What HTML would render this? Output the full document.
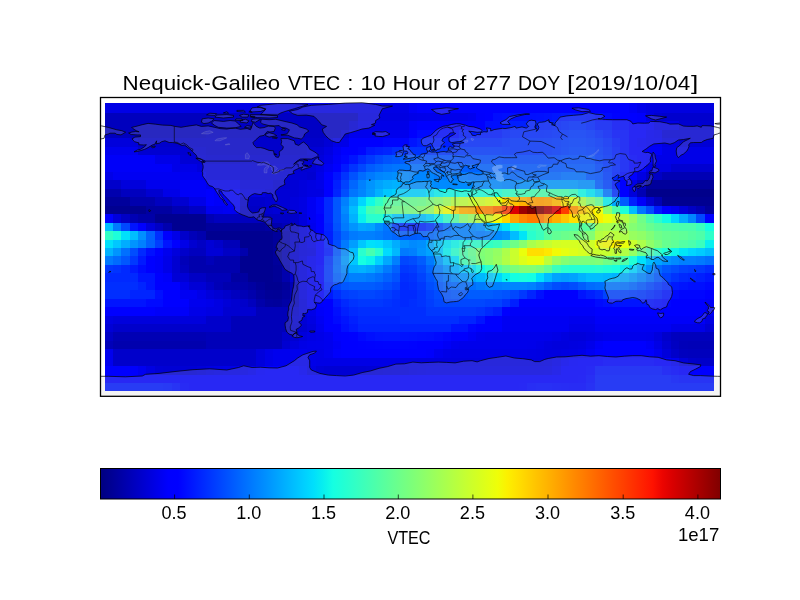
<!DOCTYPE html>
<html><head><meta charset="utf-8"><title>Nequick-Galileo VTEC</title>
<style>
html,body{margin:0;padding:0;background:#fff;}
body{width:800px;height:600px;overflow:hidden;font-family:"Liberation Sans",sans-serif;}
svg{display:block;will-change:transform;}
text{font-family:"Liberation Sans",sans-serif;fill:#000;}
.t{opacity:0.999;}
</style></head><body>
<svg width="800" height="600" viewBox="0 0 800 600">
<rect x="0" y="0" width="800" height="600" fill="#fff"/>
<defs>
<linearGradient id="jet" x1="0" y1="0" x2="1" y2="0"><stop offset="0.0000" stop-color="#000080"/><stop offset="0.0156" stop-color="#000092"/><stop offset="0.0312" stop-color="#0000a4"/><stop offset="0.0469" stop-color="#0000b6"/><stop offset="0.0625" stop-color="#0000c8"/><stop offset="0.0781" stop-color="#0000da"/><stop offset="0.0938" stop-color="#0000ec"/><stop offset="0.1094" stop-color="#0000fe"/><stop offset="0.1250" stop-color="#0000ff"/><stop offset="0.1406" stop-color="#0010ff"/><stop offset="0.1562" stop-color="#0020ff"/><stop offset="0.1719" stop-color="#0030ff"/><stop offset="0.1875" stop-color="#0040ff"/><stop offset="0.2031" stop-color="#0050ff"/><stop offset="0.2188" stop-color="#0060ff"/><stop offset="0.2344" stop-color="#0070ff"/><stop offset="0.2500" stop-color="#0080ff"/><stop offset="0.2656" stop-color="#008fff"/><stop offset="0.2812" stop-color="#009fff"/><stop offset="0.2969" stop-color="#00afff"/><stop offset="0.3125" stop-color="#00bfff"/><stop offset="0.3281" stop-color="#00cfff"/><stop offset="0.3438" stop-color="#00dffc"/><stop offset="0.3594" stop-color="#08efef"/><stop offset="0.3750" stop-color="#15ffe2"/><stop offset="0.3906" stop-color="#21ffd5"/><stop offset="0.4062" stop-color="#2effc9"/><stop offset="0.4219" stop-color="#3bffbc"/><stop offset="0.4375" stop-color="#48ffaf"/><stop offset="0.4531" stop-color="#55ffa2"/><stop offset="0.4688" stop-color="#62ff95"/><stop offset="0.4844" stop-color="#6fff88"/><stop offset="0.5000" stop-color="#7bff7b"/><stop offset="0.5156" stop-color="#88ff6f"/><stop offset="0.5312" stop-color="#95ff62"/><stop offset="0.5469" stop-color="#a2ff55"/><stop offset="0.5625" stop-color="#afff48"/><stop offset="0.5781" stop-color="#bcff3b"/><stop offset="0.5938" stop-color="#c9ff2e"/><stop offset="0.6094" stop-color="#d5ff21"/><stop offset="0.6250" stop-color="#e2ff15"/><stop offset="0.6406" stop-color="#effe08"/><stop offset="0.6562" stop-color="#fcf000"/><stop offset="0.6719" stop-color="#ffe100"/><stop offset="0.6875" stop-color="#ffd200"/><stop offset="0.7031" stop-color="#ffc300"/><stop offset="0.7188" stop-color="#ffb500"/><stop offset="0.7344" stop-color="#ffa600"/><stop offset="0.7500" stop-color="#ff9700"/><stop offset="0.7656" stop-color="#ff8800"/><stop offset="0.7812" stop-color="#ff7a00"/><stop offset="0.7969" stop-color="#ff6b00"/><stop offset="0.8125" stop-color="#ff5c00"/><stop offset="0.8281" stop-color="#ff4d00"/><stop offset="0.8438" stop-color="#ff3f00"/><stop offset="0.8594" stop-color="#ff3000"/><stop offset="0.8750" stop-color="#ff2100"/><stop offset="0.8906" stop-color="#fe1200"/><stop offset="0.9062" stop-color="#ec0400"/><stop offset="0.9219" stop-color="#da0000"/><stop offset="0.9375" stop-color="#c80000"/><stop offset="0.9531" stop-color="#b60000"/><stop offset="0.9688" stop-color="#a40000"/><stop offset="0.9844" stop-color="#920000"/><stop offset="1.0000" stop-color="#800000"/></linearGradient>
<clipPath id="axclip"><rect x="100.5" y="97.5" width="620" height="298.8"/></clipPath>
</defs>
<text class="t" y="89.7" font-size="20.3"><tspan x="122.64" textLength="80.78" lengthAdjust="spacingAndGlyphs">Nequick</tspan><tspan x="204.02" textLength="6.67" lengthAdjust="spacingAndGlyphs">-</tspan><tspan x="211.29" textLength="68.88" lengthAdjust="spacingAndGlyphs">Galileo</tspan> <tspan x="287.91" textLength="52.30" lengthAdjust="spacingAndGlyphs">VTEC</tspan> <tspan x="347.22" textLength="6.18" lengthAdjust="spacingAndGlyphs">:</tspan> <tspan x="360.40" textLength="25.02" lengthAdjust="spacingAndGlyphs">10</tspan> <tspan x="392.43" textLength="47.92" lengthAdjust="spacingAndGlyphs">Hour</tspan> <tspan x="447.35" textLength="18.82" lengthAdjust="spacingAndGlyphs">of</tspan> <tspan x="473.18" textLength="37.83" lengthAdjust="spacingAndGlyphs">277</tspan> <tspan x="518.02" textLength="41.98" lengthAdjust="spacingAndGlyphs">DOY</tspan> <tspan x="567.01" textLength="7.26" lengthAdjust="spacingAndGlyphs">[</tspan><tspan x="574.85" textLength="50.65" lengthAdjust="spacingAndGlyphs">2019</tspan><tspan x="626.10" textLength="6.18" lengthAdjust="spacingAndGlyphs">/</tspan><tspan x="632.88" textLength="25.02" lengthAdjust="spacingAndGlyphs">10</tspan><tspan x="658.50" textLength="6.18" lengthAdjust="spacingAndGlyphs">/</tspan><tspan x="665.29" textLength="25.02" lengthAdjust="spacingAndGlyphs">04</tspan><tspan x="690.90" textLength="7.26" lengthAdjust="spacingAndGlyphs">]</tspan></text>
<g shape-rendering="crispEdges">
<rect x="105" y="103" width="304" height="10" fill="#0000e6"/>
<rect x="409" y="103" width="8" height="10" fill="#0000f6"/>
<rect x="417" y="103" width="9" height="10" fill="#0000fe"/>
<rect x="426" y="103" width="203" height="10" fill="#0000ff"/>
<rect x="629" y="103" width="8" height="10" fill="#0000f6"/>
<rect x="637" y="103" width="9" height="10" fill="#0000ea"/>
<rect x="646" y="103" width="8" height="10" fill="#0000e2"/>
<rect x="654" y="103" width="60" height="10" fill="#0000e0"/>
<rect x="105" y="113" width="101" height="8" fill="#0000be"/>
<rect x="206" y="113" width="152" height="8" fill="#0000c5"/>
<rect x="358" y="113" width="51" height="8" fill="#0000e2"/>
<rect x="409" y="113" width="8" height="8" fill="#0000e8"/>
<rect x="417" y="113" width="9" height="8" fill="#0000ea"/>
<rect x="426" y="113" width="42" height="8" fill="#0000eb"/>
<rect x="468" y="113" width="8" height="8" fill="#0000ef"/>
<rect x="476" y="113" width="9" height="8" fill="#0000fd"/>
<rect x="485" y="113" width="8" height="8" fill="#0000ff"/>
<rect x="493" y="113" width="9" height="8" fill="#000cff"/>
<rect x="502" y="113" width="34" height="8" fill="#000fff"/>
<rect x="536" y="113" width="8" height="8" fill="#0010ff"/>
<rect x="544" y="113" width="8" height="8" fill="#0012ff"/>
<rect x="552" y="113" width="9" height="8" fill="#0016ff"/>
<rect x="561" y="113" width="8" height="8" fill="#0018ff"/>
<rect x="569" y="113" width="17" height="8" fill="#0019ff"/>
<rect x="586" y="113" width="9" height="8" fill="#0017ff"/>
<rect x="595" y="113" width="8" height="8" fill="#0011ff"/>
<rect x="603" y="113" width="9" height="8" fill="#0008ff"/>
<rect x="612" y="113" width="8" height="8" fill="#0002ff"/>
<rect x="620" y="113" width="17" height="8" fill="#0000ff"/>
<rect x="637" y="113" width="9" height="8" fill="#0000fc"/>
<rect x="646" y="113" width="8" height="8" fill="#0000e3"/>
<rect x="654" y="113" width="8" height="8" fill="#0000d3"/>
<rect x="662" y="113" width="52" height="8" fill="#0000ce"/>
<rect x="105" y="121" width="101" height="9" fill="#0000be"/>
<rect x="206" y="121" width="143" height="9" fill="#0000c5"/>
<rect x="349" y="121" width="9" height="9" fill="#0000d6"/>
<rect x="358" y="121" width="51" height="9" fill="#0000e8"/>
<rect x="409" y="121" width="8" height="9" fill="#0000f9"/>
<rect x="417" y="121" width="68" height="9" fill="#0000ff"/>
<rect x="485" y="121" width="17" height="9" fill="#000fff"/>
<rect x="502" y="121" width="8" height="9" fill="#0018ff"/>
<rect x="510" y="121" width="9" height="9" fill="#001eff"/>
<rect x="519" y="121" width="25" height="9" fill="#001fff"/>
<rect x="544" y="121" width="8" height="9" fill="#0020ff"/>
<rect x="552" y="121" width="9" height="9" fill="#0024ff"/>
<rect x="561" y="121" width="8" height="9" fill="#0029ff"/>
<rect x="569" y="121" width="17" height="9" fill="#002dff"/>
<rect x="586" y="121" width="9" height="9" fill="#0026ff"/>
<rect x="595" y="121" width="17" height="9" fill="#0019ff"/>
<rect x="612" y="121" width="17" height="9" fill="#000aff"/>
<rect x="629" y="121" width="17" height="9" fill="#0000ff"/>
<rect x="646" y="121" width="8" height="9" fill="#0000f9"/>
<rect x="654" y="121" width="25" height="9" fill="#0000e8"/>
<rect x="679" y="121" width="35" height="9" fill="#0000d1"/>
<rect x="105" y="130" width="101" height="8" fill="#0000be"/>
<rect x="206" y="130" width="135" height="8" fill="#0000c5"/>
<rect x="341" y="130" width="8" height="8" fill="#0000d6"/>
<rect x="349" y="130" width="60" height="8" fill="#0000ee"/>
<rect x="409" y="130" width="8" height="8" fill="#0000ff"/>
<rect x="417" y="130" width="42" height="8" fill="#000aff"/>
<rect x="459" y="130" width="43" height="8" fill="#0019ff"/>
<rect x="502" y="130" width="8" height="8" fill="#0023ff"/>
<rect x="510" y="130" width="9" height="8" fill="#0028ff"/>
<rect x="519" y="130" width="25" height="8" fill="#0029ff"/>
<rect x="544" y="130" width="8" height="8" fill="#002aff"/>
<rect x="552" y="130" width="9" height="8" fill="#002eff"/>
<rect x="561" y="130" width="8" height="8" fill="#0033ff"/>
<rect x="569" y="130" width="17" height="8" fill="#0037ff"/>
<rect x="586" y="130" width="9" height="8" fill="#0032ff"/>
<rect x="595" y="130" width="8" height="8" fill="#0029ff"/>
<rect x="603" y="130" width="9" height="8" fill="#001fff"/>
<rect x="612" y="130" width="17" height="8" fill="#000fff"/>
<rect x="629" y="130" width="17" height="8" fill="#0000ff"/>
<rect x="646" y="130" width="8" height="8" fill="#0000f3"/>
<rect x="654" y="130" width="8" height="8" fill="#0000ee"/>
<rect x="662" y="130" width="52" height="8" fill="#0000d6"/>
<rect x="105" y="138" width="33" height="9" fill="#0000dc"/>
<rect x="138" y="138" width="186" height="9" fill="#0000cb"/>
<rect x="324" y="138" width="9" height="9" fill="#0000d6"/>
<rect x="333" y="138" width="16" height="9" fill="#0000e8"/>
<rect x="349" y="138" width="34" height="9" fill="#0000ff"/>
<rect x="383" y="138" width="26" height="9" fill="#0005ff"/>
<rect x="409" y="138" width="8" height="9" fill="#0014ff"/>
<rect x="417" y="138" width="42" height="9" fill="#001fff"/>
<rect x="459" y="138" width="43" height="9" fill="#0029ff"/>
<rect x="502" y="138" width="8" height="9" fill="#002fff"/>
<rect x="510" y="138" width="9" height="9" fill="#0032ff"/>
<rect x="519" y="138" width="25" height="9" fill="#0033ff"/>
<rect x="544" y="138" width="8" height="9" fill="#0034ff"/>
<rect x="552" y="138" width="9" height="9" fill="#0036ff"/>
<rect x="561" y="138" width="8" height="9" fill="#003aff"/>
<rect x="569" y="138" width="17" height="9" fill="#003cff"/>
<rect x="586" y="138" width="9" height="9" fill="#0039ff"/>
<rect x="595" y="138" width="8" height="9" fill="#0033ff"/>
<rect x="603" y="138" width="9" height="9" fill="#0029ff"/>
<rect x="612" y="138" width="8" height="9" fill="#0019ff"/>
<rect x="620" y="138" width="9" height="9" fill="#000fff"/>
<rect x="629" y="138" width="8" height="9" fill="#0000ff"/>
<rect x="637" y="138" width="9" height="9" fill="#0000f9"/>
<rect x="646" y="138" width="16" height="9" fill="#0000f3"/>
<rect x="662" y="138" width="17" height="9" fill="#0000e2"/>
<rect x="679" y="138" width="35" height="9" fill="#0000d6"/>
<rect x="105" y="147" width="33" height="8" fill="#0000ee"/>
<rect x="138" y="147" width="68" height="8" fill="#0000d1"/>
<rect x="206" y="147" width="101" height="8" fill="#0000cb"/>
<rect x="307" y="147" width="17" height="8" fill="#0000d6"/>
<rect x="324" y="147" width="9" height="8" fill="#0000e2"/>
<rect x="333" y="147" width="8" height="8" fill="#0000f3"/>
<rect x="341" y="147" width="17" height="8" fill="#0000ff"/>
<rect x="358" y="147" width="8" height="8" fill="#0005ff"/>
<rect x="366" y="147" width="9" height="8" fill="#0019ff"/>
<rect x="375" y="147" width="8" height="8" fill="#001fff"/>
<rect x="383" y="147" width="9" height="8" fill="#0024ff"/>
<rect x="392" y="147" width="8" height="8" fill="#002eff"/>
<rect x="400" y="147" width="59" height="8" fill="#0033ff"/>
<rect x="459" y="147" width="43" height="8" fill="#0038ff"/>
<rect x="502" y="147" width="8" height="8" fill="#0035ff"/>
<rect x="510" y="147" width="34" height="8" fill="#0033ff"/>
<rect x="544" y="147" width="8" height="8" fill="#0034ff"/>
<rect x="552" y="147" width="9" height="8" fill="#0038ff"/>
<rect x="561" y="147" width="8" height="8" fill="#003dff"/>
<rect x="569" y="147" width="17" height="8" fill="#0041ff"/>
<rect x="586" y="147" width="9" height="8" fill="#003eff"/>
<rect x="595" y="147" width="8" height="8" fill="#0038ff"/>
<rect x="603" y="147" width="9" height="8" fill="#002eff"/>
<rect x="612" y="147" width="8" height="8" fill="#001fff"/>
<rect x="620" y="147" width="9" height="8" fill="#000fff"/>
<rect x="629" y="147" width="17" height="8" fill="#0000ff"/>
<rect x="646" y="147" width="16" height="8" fill="#0000f9"/>
<rect x="662" y="147" width="52" height="8" fill="#0000e8"/>
<rect x="105" y="155" width="50" height="9" fill="#0000f9"/>
<rect x="155" y="155" width="25" height="9" fill="#0000e8"/>
<rect x="180" y="155" width="26" height="9" fill="#0000d6"/>
<rect x="206" y="155" width="110" height="9" fill="#0000d1"/>
<rect x="316" y="155" width="8" height="9" fill="#0000dc"/>
<rect x="324" y="155" width="9" height="9" fill="#0000e8"/>
<rect x="333" y="155" width="8" height="9" fill="#0000f9"/>
<rect x="341" y="155" width="8" height="9" fill="#0005ff"/>
<rect x="349" y="155" width="9" height="9" fill="#0014ff"/>
<rect x="358" y="155" width="8" height="9" fill="#0029ff"/>
<rect x="366" y="155" width="9" height="9" fill="#0038ff"/>
<rect x="375" y="155" width="8" height="9" fill="#0047ff"/>
<rect x="383" y="155" width="9" height="9" fill="#0052ff"/>
<rect x="392" y="155" width="8" height="9" fill="#0057ff"/>
<rect x="400" y="155" width="9" height="9" fill="#005cff"/>
<rect x="409" y="155" width="17" height="9" fill="#0057ff"/>
<rect x="426" y="155" width="33" height="9" fill="#0052ff"/>
<rect x="459" y="155" width="43" height="9" fill="#004dff"/>
<rect x="502" y="155" width="8" height="9" fill="#0049ff"/>
<rect x="510" y="155" width="42" height="9" fill="#0047ff"/>
<rect x="552" y="155" width="9" height="9" fill="#0049ff"/>
<rect x="561" y="155" width="34" height="9" fill="#004dff"/>
<rect x="595" y="155" width="8" height="9" fill="#003dff"/>
<rect x="603" y="155" width="9" height="9" fill="#0033ff"/>
<rect x="612" y="155" width="8" height="9" fill="#0024ff"/>
<rect x="620" y="155" width="9" height="9" fill="#0014ff"/>
<rect x="629" y="155" width="8" height="9" fill="#0005ff"/>
<rect x="637" y="155" width="9" height="9" fill="#0000ff"/>
<rect x="646" y="155" width="8" height="9" fill="#0000f9"/>
<rect x="654" y="155" width="60" height="9" fill="#0000e8"/>
<rect x="105" y="164" width="67" height="8" fill="#0000f9"/>
<rect x="172" y="164" width="25" height="8" fill="#0000e8"/>
<rect x="197" y="164" width="43" height="8" fill="#0000dc"/>
<rect x="240" y="164" width="59" height="8" fill="#0000d6"/>
<rect x="299" y="164" width="8" height="8" fill="#0000d1"/>
<rect x="307" y="164" width="9" height="8" fill="#0000d6"/>
<rect x="316" y="164" width="8" height="8" fill="#0000e2"/>
<rect x="324" y="164" width="9" height="8" fill="#0000f3"/>
<rect x="333" y="164" width="8" height="8" fill="#0000ff"/>
<rect x="341" y="164" width="8" height="8" fill="#0019ff"/>
<rect x="349" y="164" width="9" height="8" fill="#0033ff"/>
<rect x="358" y="164" width="8" height="8" fill="#0047ff"/>
<rect x="366" y="164" width="9" height="8" fill="#005cff"/>
<rect x="375" y="164" width="8" height="8" fill="#0066ff"/>
<rect x="383" y="164" width="9" height="8" fill="#0070ff"/>
<rect x="392" y="164" width="17" height="8" fill="#0075ff"/>
<rect x="409" y="164" width="25" height="8" fill="#0070ff"/>
<rect x="434" y="164" width="25" height="8" fill="#0066ff"/>
<rect x="459" y="164" width="43" height="8" fill="#0061ff"/>
<rect x="502" y="164" width="8" height="8" fill="#005cff"/>
<rect x="510" y="164" width="85" height="8" fill="#0057ff"/>
<rect x="595" y="164" width="8" height="8" fill="#0047ff"/>
<rect x="603" y="164" width="9" height="8" fill="#0038ff"/>
<rect x="612" y="164" width="8" height="8" fill="#0029ff"/>
<rect x="620" y="164" width="9" height="8" fill="#0014ff"/>
<rect x="629" y="164" width="8" height="8" fill="#0005ff"/>
<rect x="637" y="164" width="9" height="8" fill="#0000ff"/>
<rect x="646" y="164" width="25" height="8" fill="#0000e2"/>
<rect x="671" y="164" width="43" height="8" fill="#0000d1"/>
<rect x="105" y="172" width="8" height="8" fill="#0000e8"/>
<rect x="113" y="172" width="67" height="8" fill="#0000f3"/>
<rect x="180" y="172" width="26" height="8" fill="#0000ee"/>
<rect x="206" y="172" width="34" height="8" fill="#0000dc"/>
<rect x="240" y="172" width="67" height="8" fill="#0000d6"/>
<rect x="307" y="172" width="9" height="8" fill="#0000d1"/>
<rect x="316" y="172" width="8" height="8" fill="#0000e8"/>
<rect x="324" y="172" width="9" height="8" fill="#0000ff"/>
<rect x="333" y="172" width="8" height="8" fill="#0014ff"/>
<rect x="341" y="172" width="8" height="8" fill="#0033ff"/>
<rect x="349" y="172" width="9" height="8" fill="#0052ff"/>
<rect x="358" y="172" width="8" height="8" fill="#006bff"/>
<rect x="366" y="172" width="9" height="8" fill="#007aff"/>
<rect x="375" y="172" width="8" height="8" fill="#0085ff"/>
<rect x="383" y="172" width="9" height="8" fill="#008aff"/>
<rect x="392" y="172" width="8" height="8" fill="#008fff"/>
<rect x="400" y="172" width="9" height="8" fill="#008aff"/>
<rect x="409" y="172" width="25" height="8" fill="#0085ff"/>
<rect x="434" y="172" width="34" height="8" fill="#007aff"/>
<rect x="468" y="172" width="34" height="8" fill="#0075ff"/>
<rect x="502" y="172" width="8" height="8" fill="#0070ff"/>
<rect x="510" y="172" width="51" height="8" fill="#0066ff"/>
<rect x="561" y="172" width="25" height="8" fill="#0070ff"/>
<rect x="586" y="172" width="9" height="8" fill="#0057ff"/>
<rect x="595" y="172" width="8" height="8" fill="#0052ff"/>
<rect x="603" y="172" width="9" height="8" fill="#003dff"/>
<rect x="612" y="172" width="8" height="8" fill="#0024ff"/>
<rect x="620" y="172" width="9" height="8" fill="#000aff"/>
<rect x="629" y="172" width="8" height="8" fill="#0000ff"/>
<rect x="637" y="172" width="9" height="8" fill="#0000e2"/>
<rect x="646" y="172" width="16" height="8" fill="#0000c5"/>
<rect x="662" y="172" width="52" height="8" fill="#0000b4"/>
<rect x="105" y="180" width="16" height="9" fill="#0000cb"/>
<rect x="121" y="180" width="25" height="9" fill="#0000dc"/>
<rect x="146" y="180" width="34" height="9" fill="#0000ee"/>
<rect x="180" y="180" width="26" height="9" fill="#0000f9"/>
<rect x="206" y="180" width="34" height="9" fill="#0000ee"/>
<rect x="240" y="180" width="33" height="9" fill="#0000dc"/>
<rect x="273" y="180" width="17" height="9" fill="#0000d1"/>
<rect x="290" y="180" width="9" height="9" fill="#0000d6"/>
<rect x="299" y="180" width="8" height="9" fill="#0000dc"/>
<rect x="307" y="180" width="9" height="9" fill="#0000e2"/>
<rect x="316" y="180" width="8" height="9" fill="#0000e8"/>
<rect x="324" y="180" width="9" height="9" fill="#0000ff"/>
<rect x="333" y="180" width="8" height="9" fill="#001fff"/>
<rect x="341" y="180" width="8" height="9" fill="#0042ff"/>
<rect x="349" y="180" width="9" height="9" fill="#0066ff"/>
<rect x="358" y="180" width="8" height="9" fill="#0080ff"/>
<rect x="366" y="180" width="9" height="9" fill="#0094ff"/>
<rect x="375" y="180" width="8" height="9" fill="#00a3ff"/>
<rect x="383" y="180" width="9" height="9" fill="#00adff"/>
<rect x="392" y="180" width="8" height="9" fill="#00b2ff"/>
<rect x="400" y="180" width="9" height="9" fill="#0099ff"/>
<rect x="409" y="180" width="25" height="9" fill="#008fff"/>
<rect x="434" y="180" width="68" height="9" fill="#008aff"/>
<rect x="502" y="180" width="17" height="9" fill="#0085ff"/>
<rect x="519" y="180" width="25" height="9" fill="#008fff"/>
<rect x="544" y="180" width="34" height="9" fill="#0099ff"/>
<rect x="578" y="180" width="17" height="9" fill="#008fff"/>
<rect x="595" y="180" width="8" height="9" fill="#005cff"/>
<rect x="603" y="180" width="9" height="9" fill="#0042ff"/>
<rect x="612" y="180" width="8" height="9" fill="#0019ff"/>
<rect x="620" y="180" width="9" height="9" fill="#0000ff"/>
<rect x="629" y="180" width="8" height="9" fill="#0000e8"/>
<rect x="637" y="180" width="9" height="9" fill="#0000c5"/>
<rect x="646" y="180" width="68" height="9" fill="#00009c"/>
<rect x="105" y="189" width="16" height="8" fill="#0000ae"/>
<rect x="121" y="189" width="25" height="8" fill="#0000bf"/>
<rect x="146" y="189" width="17" height="8" fill="#0000d1"/>
<rect x="163" y="189" width="17" height="8" fill="#0000e8"/>
<rect x="180" y="189" width="26" height="8" fill="#0000f9"/>
<rect x="206" y="189" width="8" height="8" fill="#0000ff"/>
<rect x="214" y="189" width="26" height="8" fill="#0000f9"/>
<rect x="240" y="189" width="25" height="8" fill="#0000e2"/>
<rect x="265" y="189" width="34" height="8" fill="#0000d6"/>
<rect x="299" y="189" width="8" height="8" fill="#0000dc"/>
<rect x="307" y="189" width="17" height="8" fill="#0000e2"/>
<rect x="324" y="189" width="9" height="8" fill="#0000ff"/>
<rect x="333" y="189" width="8" height="8" fill="#0024ff"/>
<rect x="341" y="189" width="8" height="8" fill="#004dff"/>
<rect x="349" y="189" width="9" height="8" fill="#0075ff"/>
<rect x="358" y="189" width="8" height="8" fill="#0085ff"/>
<rect x="366" y="189" width="9" height="8" fill="#0099ff"/>
<rect x="375" y="189" width="8" height="8" fill="#00b2ff"/>
<rect x="383" y="189" width="9" height="8" fill="#00c7ff"/>
<rect x="392" y="189" width="34" height="8" fill="#00d1ff"/>
<rect x="426" y="189" width="8" height="8" fill="#00e0fb"/>
<rect x="434" y="189" width="9" height="8" fill="#08f0ef"/>
<rect x="443" y="189" width="16" height="8" fill="#10fae6"/>
<rect x="459" y="189" width="17" height="8" fill="#19ffde"/>
<rect x="476" y="189" width="26" height="8" fill="#1dffda"/>
<rect x="502" y="189" width="8" height="8" fill="#2dffca"/>
<rect x="510" y="189" width="9" height="8" fill="#31ffc5"/>
<rect x="519" y="189" width="8" height="8" fill="#3affbd"/>
<rect x="527" y="189" width="9" height="8" fill="#42ffb5"/>
<rect x="536" y="189" width="25" height="8" fill="#4affad"/>
<rect x="561" y="189" width="8" height="8" fill="#46ffb1"/>
<rect x="569" y="189" width="9" height="8" fill="#3affbd"/>
<rect x="578" y="189" width="8" height="8" fill="#10fae6"/>
<rect x="586" y="189" width="9" height="8" fill="#00e5f7"/>
<rect x="595" y="189" width="8" height="8" fill="#00c2ff"/>
<rect x="603" y="189" width="9" height="8" fill="#0075ff"/>
<rect x="612" y="189" width="8" height="8" fill="#002eff"/>
<rect x="620" y="189" width="9" height="8" fill="#0000ff"/>
<rect x="629" y="189" width="8" height="8" fill="#0000dc"/>
<rect x="637" y="189" width="9" height="8" fill="#0000b4"/>
<rect x="646" y="189" width="68" height="8" fill="#00008b"/>
<rect x="105" y="197" width="25" height="9" fill="#00009c"/>
<rect x="130" y="197" width="25" height="9" fill="#0000ae"/>
<rect x="155" y="197" width="17" height="9" fill="#0000bf"/>
<rect x="172" y="197" width="17" height="9" fill="#0000d1"/>
<rect x="189" y="197" width="17" height="9" fill="#0000e8"/>
<rect x="206" y="197" width="8" height="9" fill="#0000ff"/>
<rect x="214" y="197" width="26" height="9" fill="#0000f9"/>
<rect x="240" y="197" width="25" height="9" fill="#0000cb"/>
<rect x="265" y="197" width="8" height="9" fill="#0000d1"/>
<rect x="273" y="197" width="17" height="9" fill="#0000d6"/>
<rect x="290" y="197" width="9" height="9" fill="#0000dc"/>
<rect x="299" y="197" width="8" height="9" fill="#0000e2"/>
<rect x="307" y="197" width="9" height="9" fill="#0000f3"/>
<rect x="316" y="197" width="8" height="9" fill="#0005ff"/>
<rect x="324" y="197" width="9" height="9" fill="#0029ff"/>
<rect x="333" y="197" width="8" height="9" fill="#0057ff"/>
<rect x="341" y="197" width="8" height="9" fill="#0080ff"/>
<rect x="349" y="197" width="9" height="9" fill="#00a8ff"/>
<rect x="358" y="197" width="8" height="9" fill="#00d6ff"/>
<rect x="366" y="197" width="9" height="9" fill="#10fae6"/>
<rect x="375" y="197" width="8" height="9" fill="#31ffc5"/>
<rect x="383" y="197" width="9" height="9" fill="#4effa9"/>
<rect x="392" y="197" width="8" height="9" fill="#5aff9c"/>
<rect x="400" y="197" width="9" height="9" fill="#63ff94"/>
<rect x="409" y="197" width="8" height="9" fill="#67ff90"/>
<rect x="417" y="197" width="9" height="9" fill="#6bff8c"/>
<rect x="426" y="197" width="8" height="9" fill="#77ff80"/>
<rect x="434" y="197" width="9" height="9" fill="#88ff6f"/>
<rect x="443" y="197" width="8" height="9" fill="#9cff5a"/>
<rect x="451" y="197" width="8" height="9" fill="#b5ff42"/>
<rect x="459" y="197" width="9" height="9" fill="#bdff3a"/>
<rect x="468" y="197" width="8" height="9" fill="#caff2d"/>
<rect x="476" y="197" width="9" height="9" fill="#ceff29"/>
<rect x="485" y="197" width="8" height="9" fill="#daff1d"/>
<rect x="493" y="197" width="9" height="9" fill="#e6ff10"/>
<rect x="502" y="197" width="8" height="9" fill="#ffd900"/>
<rect x="510" y="197" width="9" height="9" fill="#ffc200"/>
<rect x="519" y="197" width="8" height="9" fill="#ffaf00"/>
<rect x="527" y="197" width="9" height="9" fill="#ffa100"/>
<rect x="536" y="197" width="8" height="9" fill="#ff9c00"/>
<rect x="544" y="197" width="8" height="9" fill="#ffa100"/>
<rect x="552" y="197" width="9" height="9" fill="#ffb800"/>
<rect x="561" y="197" width="8" height="9" fill="#ffe300"/>
<rect x="569" y="197" width="9" height="9" fill="#deff19"/>
<rect x="578" y="197" width="8" height="9" fill="#adff4a"/>
<rect x="586" y="197" width="9" height="9" fill="#84ff73"/>
<rect x="595" y="197" width="8" height="9" fill="#63ff94"/>
<rect x="603" y="197" width="9" height="9" fill="#08f0ef"/>
<rect x="612" y="197" width="8" height="9" fill="#00a8ff"/>
<rect x="620" y="197" width="9" height="9" fill="#005cff"/>
<rect x="629" y="197" width="8" height="9" fill="#001fff"/>
<rect x="637" y="197" width="9" height="9" fill="#0000f9"/>
<rect x="646" y="197" width="8" height="9" fill="#0000d1"/>
<rect x="654" y="197" width="8" height="9" fill="#0000b4"/>
<rect x="662" y="197" width="52" height="9" fill="#000091"/>
<rect x="105" y="206" width="41" height="8" fill="#000091"/>
<rect x="146" y="206" width="26" height="8" fill="#0000a2"/>
<rect x="172" y="206" width="17" height="8" fill="#0000b4"/>
<rect x="189" y="206" width="17" height="8" fill="#0000c5"/>
<rect x="206" y="206" width="17" height="8" fill="#0000ee"/>
<rect x="223" y="206" width="17" height="8" fill="#0000f3"/>
<rect x="240" y="206" width="25" height="8" fill="#0000c5"/>
<rect x="265" y="206" width="8" height="8" fill="#0000d1"/>
<rect x="273" y="206" width="17" height="8" fill="#0000d6"/>
<rect x="290" y="206" width="9" height="8" fill="#0000dc"/>
<rect x="299" y="206" width="8" height="8" fill="#0000e2"/>
<rect x="307" y="206" width="9" height="8" fill="#0000f3"/>
<rect x="316" y="206" width="8" height="8" fill="#0005ff"/>
<rect x="324" y="206" width="9" height="8" fill="#0029ff"/>
<rect x="333" y="206" width="8" height="8" fill="#0057ff"/>
<rect x="341" y="206" width="8" height="8" fill="#008aff"/>
<rect x="349" y="206" width="9" height="8" fill="#00bdff"/>
<rect x="358" y="206" width="8" height="8" fill="#10fae6"/>
<rect x="366" y="206" width="9" height="8" fill="#46ffb1"/>
<rect x="375" y="206" width="8" height="8" fill="#56ffa0"/>
<rect x="383" y="206" width="9" height="8" fill="#67ff90"/>
<rect x="392" y="206" width="8" height="8" fill="#6fff88"/>
<rect x="400" y="206" width="9" height="8" fill="#73ff84"/>
<rect x="409" y="206" width="8" height="8" fill="#77ff80"/>
<rect x="417" y="206" width="9" height="8" fill="#84ff73"/>
<rect x="426" y="206" width="8" height="8" fill="#94ff63"/>
<rect x="434" y="206" width="9" height="8" fill="#ceff29"/>
<rect x="443" y="206" width="8" height="8" fill="#efff08"/>
<rect x="451" y="206" width="8" height="8" fill="#ffd000"/>
<rect x="459" y="206" width="9" height="8" fill="#ffaf00"/>
<rect x="468" y="206" width="8" height="8" fill="#ffaa00"/>
<rect x="476" y="206" width="9" height="8" fill="#ff8900"/>
<rect x="485" y="206" width="8" height="8" fill="#ff8400"/>
<rect x="493" y="206" width="9" height="8" fill="#ff6800"/>
<rect x="502" y="206" width="8" height="8" fill="#ff3900"/>
<rect x="510" y="206" width="9" height="8" fill="#dc0000"/>
<rect x="519" y="206" width="8" height="8" fill="#9c0000"/>
<rect x="527" y="206" width="17" height="8" fill="#800000"/>
<rect x="544" y="206" width="8" height="8" fill="#a80000"/>
<rect x="552" y="206" width="9" height="8" fill="#dc0000"/>
<rect x="561" y="206" width="8" height="8" fill="#ff3d00"/>
<rect x="569" y="206" width="9" height="8" fill="#ff9200"/>
<rect x="578" y="206" width="8" height="8" fill="#ffc200"/>
<rect x="586" y="206" width="9" height="8" fill="#ffe700"/>
<rect x="595" y="206" width="8" height="8" fill="#efff08"/>
<rect x="603" y="206" width="9" height="8" fill="#8cff6b"/>
<rect x="612" y="206" width="8" height="8" fill="#4effa9"/>
<rect x="620" y="206" width="9" height="8" fill="#1dffda"/>
<rect x="629" y="206" width="8" height="8" fill="#00bdff"/>
<rect x="637" y="206" width="9" height="8" fill="#0075ff"/>
<rect x="646" y="206" width="8" height="8" fill="#004dff"/>
<rect x="654" y="206" width="8" height="8" fill="#0019ff"/>
<rect x="662" y="206" width="9" height="8" fill="#0000ff"/>
<rect x="671" y="206" width="8" height="8" fill="#0000f3"/>
<rect x="679" y="206" width="9" height="8" fill="#0000dc"/>
<rect x="688" y="206" width="8" height="8" fill="#0000c5"/>
<rect x="696" y="206" width="9" height="8" fill="#0000b4"/>
<rect x="705" y="206" width="9" height="8" fill="#00009c"/>
<rect x="105" y="214" width="8" height="9" fill="#0000ff"/>
<rect x="113" y="214" width="8" height="9" fill="#0000dc"/>
<rect x="121" y="214" width="9" height="9" fill="#0000c5"/>
<rect x="130" y="214" width="8" height="9" fill="#0000b4"/>
<rect x="138" y="214" width="17" height="9" fill="#0000a8"/>
<rect x="155" y="214" width="51" height="9" fill="#000091"/>
<rect x="206" y="214" width="8" height="9" fill="#0000b4"/>
<rect x="214" y="214" width="51" height="9" fill="#0000bf"/>
<rect x="265" y="214" width="25" height="9" fill="#0000c5"/>
<rect x="290" y="214" width="9" height="9" fill="#0000cb"/>
<rect x="299" y="214" width="8" height="9" fill="#0000dc"/>
<rect x="307" y="214" width="9" height="9" fill="#0000f3"/>
<rect x="316" y="214" width="8" height="9" fill="#0000ff"/>
<rect x="324" y="214" width="9" height="9" fill="#0029ff"/>
<rect x="333" y="214" width="8" height="9" fill="#0057ff"/>
<rect x="341" y="214" width="8" height="9" fill="#0080ff"/>
<rect x="349" y="214" width="9" height="9" fill="#00b2ff"/>
<rect x="358" y="214" width="8" height="9" fill="#08f0ef"/>
<rect x="366" y="214" width="17" height="9" fill="#29ffce"/>
<rect x="383" y="214" width="9" height="9" fill="#04ebf3"/>
<rect x="392" y="214" width="8" height="9" fill="#00c7ff"/>
<rect x="400" y="214" width="9" height="9" fill="#00c2ff"/>
<rect x="409" y="214" width="17" height="9" fill="#00bdff"/>
<rect x="426" y="214" width="8" height="9" fill="#00d1ff"/>
<rect x="434" y="214" width="9" height="9" fill="#08f0ef"/>
<rect x="443" y="214" width="8" height="9" fill="#2dffca"/>
<rect x="451" y="214" width="8" height="9" fill="#52ffa5"/>
<rect x="459" y="214" width="9" height="9" fill="#84ff73"/>
<rect x="468" y="214" width="8" height="9" fill="#98ff5f"/>
<rect x="476" y="214" width="9" height="9" fill="#bdff3a"/>
<rect x="485" y="214" width="8" height="9" fill="#d6ff21"/>
<rect x="493" y="214" width="9" height="9" fill="#f3fa04"/>
<rect x="502" y="214" width="8" height="9" fill="#ffd400"/>
<rect x="510" y="214" width="9" height="9" fill="#ffa500"/>
<rect x="519" y="214" width="8" height="9" fill="#ff8900"/>
<rect x="527" y="214" width="17" height="9" fill="#ff7b00"/>
<rect x="544" y="214" width="8" height="9" fill="#ff9700"/>
<rect x="552" y="214" width="9" height="9" fill="#ffaf00"/>
<rect x="561" y="214" width="8" height="9" fill="#ffc600"/>
<rect x="569" y="214" width="9" height="9" fill="#ffde00"/>
<rect x="578" y="214" width="8" height="9" fill="#f7f600"/>
<rect x="586" y="214" width="9" height="9" fill="#f3fa04"/>
<rect x="595" y="214" width="8" height="9" fill="#fbf100"/>
<rect x="603" y="214" width="9" height="9" fill="#eaff0c"/>
<rect x="612" y="214" width="8" height="9" fill="#d6ff21"/>
<rect x="620" y="214" width="9" height="9" fill="#b1ff46"/>
<rect x="629" y="214" width="8" height="9" fill="#94ff63"/>
<rect x="637" y="214" width="9" height="9" fill="#6fff88"/>
<rect x="646" y="214" width="8" height="9" fill="#4affad"/>
<rect x="654" y="214" width="8" height="9" fill="#2dffca"/>
<rect x="662" y="214" width="9" height="9" fill="#10fae6"/>
<rect x="671" y="214" width="8" height="9" fill="#00d6ff"/>
<rect x="679" y="214" width="9" height="9" fill="#00adff"/>
<rect x="688" y="214" width="8" height="9" fill="#0085ff"/>
<rect x="696" y="214" width="9" height="9" fill="#0047ff"/>
<rect x="705" y="214" width="9" height="9" fill="#0000ff"/>
<rect x="105" y="223" width="8" height="8" fill="#00bdff"/>
<rect x="113" y="223" width="8" height="8" fill="#007aff"/>
<rect x="121" y="223" width="9" height="8" fill="#0047ff"/>
<rect x="130" y="223" width="8" height="8" fill="#0014ff"/>
<rect x="138" y="223" width="8" height="8" fill="#0000ff"/>
<rect x="146" y="223" width="9" height="8" fill="#0000dc"/>
<rect x="155" y="223" width="8" height="8" fill="#0000c5"/>
<rect x="163" y="223" width="9" height="8" fill="#0000ae"/>
<rect x="172" y="223" width="34" height="8" fill="#000091"/>
<rect x="206" y="223" width="59" height="8" fill="#00009c"/>
<rect x="265" y="223" width="8" height="8" fill="#0000a2"/>
<rect x="273" y="223" width="9" height="8" fill="#0000ae"/>
<rect x="282" y="223" width="8" height="8" fill="#0000b9"/>
<rect x="290" y="223" width="9" height="8" fill="#0000c5"/>
<rect x="299" y="223" width="8" height="8" fill="#0000dc"/>
<rect x="307" y="223" width="9" height="8" fill="#0000ee"/>
<rect x="316" y="223" width="8" height="8" fill="#0000ff"/>
<rect x="324" y="223" width="9" height="8" fill="#0024ff"/>
<rect x="333" y="223" width="8" height="8" fill="#0052ff"/>
<rect x="341" y="223" width="8" height="8" fill="#007aff"/>
<rect x="349" y="223" width="9" height="8" fill="#0094ff"/>
<rect x="358" y="223" width="8" height="8" fill="#00a8ff"/>
<rect x="366" y="223" width="9" height="8" fill="#00a3ff"/>
<rect x="375" y="223" width="8" height="8" fill="#008aff"/>
<rect x="383" y="223" width="9" height="8" fill="#0075ff"/>
<rect x="392" y="223" width="8" height="8" fill="#0038ff"/>
<rect x="400" y="223" width="9" height="8" fill="#0029ff"/>
<rect x="409" y="223" width="8" height="8" fill="#001fff"/>
<rect x="417" y="223" width="9" height="8" fill="#0024ff"/>
<rect x="426" y="223" width="8" height="8" fill="#0033ff"/>
<rect x="434" y="223" width="9" height="8" fill="#004dff"/>
<rect x="443" y="223" width="8" height="8" fill="#006bff"/>
<rect x="451" y="223" width="17" height="8" fill="#0080ff"/>
<rect x="468" y="223" width="8" height="8" fill="#0085ff"/>
<rect x="476" y="223" width="9" height="8" fill="#008fff"/>
<rect x="485" y="223" width="8" height="8" fill="#00b2ff"/>
<rect x="493" y="223" width="9" height="8" fill="#00c7ff"/>
<rect x="502" y="223" width="8" height="8" fill="#00e0fb"/>
<rect x="510" y="223" width="9" height="8" fill="#1dffda"/>
<rect x="519" y="223" width="8" height="8" fill="#2dffca"/>
<rect x="527" y="223" width="9" height="8" fill="#35ffc1"/>
<rect x="536" y="223" width="8" height="8" fill="#3effb9"/>
<rect x="544" y="223" width="8" height="8" fill="#4affad"/>
<rect x="552" y="223" width="17" height="8" fill="#4effa9"/>
<rect x="569" y="223" width="9" height="8" fill="#52ffa5"/>
<rect x="578" y="223" width="8" height="8" fill="#56ffa0"/>
<rect x="586" y="223" width="9" height="8" fill="#5aff9c"/>
<rect x="595" y="223" width="8" height="8" fill="#a0ff56"/>
<rect x="603" y="223" width="9" height="8" fill="#a5ff52"/>
<rect x="612" y="223" width="8" height="8" fill="#a0ff56"/>
<rect x="620" y="223" width="9" height="8" fill="#94ff63"/>
<rect x="629" y="223" width="8" height="8" fill="#84ff73"/>
<rect x="637" y="223" width="9" height="8" fill="#77ff80"/>
<rect x="646" y="223" width="8" height="8" fill="#67ff90"/>
<rect x="654" y="223" width="8" height="8" fill="#5aff9c"/>
<rect x="662" y="223" width="9" height="8" fill="#52ffa5"/>
<rect x="671" y="223" width="8" height="8" fill="#4effa9"/>
<rect x="679" y="223" width="17" height="8" fill="#4affad"/>
<rect x="696" y="223" width="9" height="8" fill="#3affbd"/>
<rect x="705" y="223" width="9" height="8" fill="#15ffe2"/>
<rect x="105" y="231" width="8" height="9" fill="#31ffc5"/>
<rect x="113" y="231" width="8" height="9" fill="#1dffda"/>
<rect x="121" y="231" width="9" height="9" fill="#00e0fb"/>
<rect x="130" y="231" width="8" height="9" fill="#00bdff"/>
<rect x="138" y="231" width="8" height="9" fill="#008fff"/>
<rect x="146" y="231" width="9" height="9" fill="#0061ff"/>
<rect x="155" y="231" width="8" height="9" fill="#002eff"/>
<rect x="163" y="231" width="9" height="9" fill="#0000ff"/>
<rect x="172" y="231" width="8" height="9" fill="#0000e8"/>
<rect x="180" y="231" width="9" height="9" fill="#0000cb"/>
<rect x="189" y="231" width="8" height="9" fill="#0000b9"/>
<rect x="197" y="231" width="9" height="9" fill="#0000ae"/>
<rect x="206" y="231" width="67" height="9" fill="#000091"/>
<rect x="273" y="231" width="9" height="9" fill="#00009c"/>
<rect x="282" y="231" width="8" height="9" fill="#0000ae"/>
<rect x="290" y="231" width="9" height="9" fill="#0000c5"/>
<rect x="299" y="231" width="8" height="9" fill="#0000dc"/>
<rect x="307" y="231" width="9" height="9" fill="#0000e8"/>
<rect x="316" y="231" width="8" height="9" fill="#0000ff"/>
<rect x="324" y="231" width="9" height="9" fill="#001fff"/>
<rect x="333" y="231" width="8" height="9" fill="#0047ff"/>
<rect x="341" y="231" width="8" height="9" fill="#0066ff"/>
<rect x="349" y="231" width="9" height="9" fill="#007aff"/>
<rect x="358" y="231" width="17" height="9" fill="#0080ff"/>
<rect x="375" y="231" width="8" height="9" fill="#007aff"/>
<rect x="383" y="231" width="9" height="9" fill="#0070ff"/>
<rect x="392" y="231" width="8" height="9" fill="#0066ff"/>
<rect x="400" y="231" width="17" height="9" fill="#005cff"/>
<rect x="417" y="231" width="9" height="9" fill="#0061ff"/>
<rect x="426" y="231" width="8" height="9" fill="#0066ff"/>
<rect x="434" y="231" width="9" height="9" fill="#0070ff"/>
<rect x="443" y="231" width="8" height="9" fill="#007aff"/>
<rect x="451" y="231" width="25" height="9" fill="#0080ff"/>
<rect x="476" y="231" width="9" height="9" fill="#007aff"/>
<rect x="485" y="231" width="8" height="9" fill="#0080ff"/>
<rect x="493" y="231" width="9" height="9" fill="#008aff"/>
<rect x="502" y="231" width="8" height="9" fill="#0094ff"/>
<rect x="510" y="231" width="9" height="9" fill="#00bdff"/>
<rect x="519" y="231" width="8" height="9" fill="#00e5f7"/>
<rect x="527" y="231" width="9" height="9" fill="#29ffce"/>
<rect x="536" y="231" width="8" height="9" fill="#3affbd"/>
<rect x="544" y="231" width="8" height="9" fill="#56ffa0"/>
<rect x="552" y="231" width="9" height="9" fill="#63ff94"/>
<rect x="561" y="231" width="8" height="9" fill="#6bff8c"/>
<rect x="569" y="231" width="9" height="9" fill="#6fff88"/>
<rect x="578" y="231" width="8" height="9" fill="#7bff7b"/>
<rect x="586" y="231" width="9" height="9" fill="#84ff73"/>
<rect x="595" y="231" width="8" height="9" fill="#b5ff42"/>
<rect x="603" y="231" width="9" height="9" fill="#bdff3a"/>
<rect x="612" y="231" width="8" height="9" fill="#b9ff3e"/>
<rect x="620" y="231" width="9" height="9" fill="#adff4a"/>
<rect x="629" y="231" width="8" height="9" fill="#98ff5f"/>
<rect x="637" y="231" width="9" height="9" fill="#90ff67"/>
<rect x="646" y="231" width="8" height="9" fill="#80ff77"/>
<rect x="654" y="231" width="8" height="9" fill="#6fff88"/>
<rect x="662" y="231" width="9" height="9" fill="#67ff90"/>
<rect x="671" y="231" width="8" height="9" fill="#63ff94"/>
<rect x="679" y="231" width="9" height="9" fill="#5fff98"/>
<rect x="688" y="231" width="8" height="9" fill="#56ffa0"/>
<rect x="696" y="231" width="9" height="9" fill="#4effa9"/>
<rect x="705" y="231" width="9" height="9" fill="#2dffca"/>
<rect x="105" y="240" width="8" height="8" fill="#00e0fb"/>
<rect x="113" y="240" width="8" height="8" fill="#00c7ff"/>
<rect x="121" y="240" width="9" height="8" fill="#00adff"/>
<rect x="130" y="240" width="8" height="8" fill="#0094ff"/>
<rect x="138" y="240" width="8" height="8" fill="#0080ff"/>
<rect x="146" y="240" width="9" height="8" fill="#0061ff"/>
<rect x="155" y="240" width="8" height="8" fill="#003dff"/>
<rect x="163" y="240" width="9" height="8" fill="#0014ff"/>
<rect x="172" y="240" width="8" height="8" fill="#0000ff"/>
<rect x="180" y="240" width="9" height="8" fill="#0000e8"/>
<rect x="189" y="240" width="8" height="8" fill="#0000d1"/>
<rect x="197" y="240" width="9" height="8" fill="#0000c5"/>
<rect x="206" y="240" width="8" height="8" fill="#0000d6"/>
<rect x="214" y="240" width="9" height="8" fill="#0000cb"/>
<rect x="223" y="240" width="17" height="8" fill="#0000b9"/>
<rect x="240" y="240" width="33" height="8" fill="#000091"/>
<rect x="273" y="240" width="9" height="8" fill="#00009c"/>
<rect x="282" y="240" width="8" height="8" fill="#0000ae"/>
<rect x="290" y="240" width="9" height="8" fill="#0000cb"/>
<rect x="299" y="240" width="8" height="8" fill="#0000dc"/>
<rect x="307" y="240" width="9" height="8" fill="#0000e8"/>
<rect x="316" y="240" width="8" height="8" fill="#0000ff"/>
<rect x="324" y="240" width="9" height="8" fill="#001fff"/>
<rect x="333" y="240" width="8" height="8" fill="#004dff"/>
<rect x="341" y="240" width="8" height="8" fill="#007aff"/>
<rect x="349" y="240" width="9" height="8" fill="#009eff"/>
<rect x="358" y="240" width="8" height="8" fill="#00c7ff"/>
<rect x="366" y="240" width="9" height="8" fill="#00e0fb"/>
<rect x="375" y="240" width="8" height="8" fill="#00dbff"/>
<rect x="383" y="240" width="9" height="8" fill="#00c7ff"/>
<rect x="392" y="240" width="8" height="8" fill="#00adff"/>
<rect x="400" y="240" width="9" height="8" fill="#0094ff"/>
<rect x="409" y="240" width="8" height="8" fill="#008aff"/>
<rect x="417" y="240" width="9" height="8" fill="#008fff"/>
<rect x="426" y="240" width="8" height="8" fill="#00a8ff"/>
<rect x="434" y="240" width="9" height="8" fill="#00c7ff"/>
<rect x="443" y="240" width="8" height="8" fill="#00e5f7"/>
<rect x="451" y="240" width="8" height="8" fill="#0cf5ea"/>
<rect x="459" y="240" width="9" height="8" fill="#1dffda"/>
<rect x="468" y="240" width="8" height="8" fill="#29ffce"/>
<rect x="476" y="240" width="9" height="8" fill="#2dffca"/>
<rect x="485" y="240" width="8" height="8" fill="#31ffc5"/>
<rect x="493" y="240" width="9" height="8" fill="#3affbd"/>
<rect x="502" y="240" width="8" height="8" fill="#56ffa0"/>
<rect x="510" y="240" width="9" height="8" fill="#6fff88"/>
<rect x="519" y="240" width="8" height="8" fill="#88ff6f"/>
<rect x="527" y="240" width="9" height="8" fill="#a9ff4e"/>
<rect x="536" y="240" width="8" height="8" fill="#b9ff3e"/>
<rect x="544" y="240" width="8" height="8" fill="#c5ff31"/>
<rect x="552" y="240" width="9" height="8" fill="#d2ff25"/>
<rect x="561" y="240" width="17" height="8" fill="#d6ff21"/>
<rect x="578" y="240" width="8" height="8" fill="#d2ff25"/>
<rect x="586" y="240" width="9" height="8" fill="#ceff29"/>
<rect x="595" y="240" width="8" height="8" fill="#eaff0c"/>
<rect x="603" y="240" width="9" height="8" fill="#f3fa04"/>
<rect x="612" y="240" width="8" height="8" fill="#fbf100"/>
<rect x="620" y="240" width="9" height="8" fill="#eaff0c"/>
<rect x="629" y="240" width="8" height="8" fill="#caff2d"/>
<rect x="637" y="240" width="9" height="8" fill="#adff4a"/>
<rect x="646" y="240" width="8" height="8" fill="#90ff67"/>
<rect x="654" y="240" width="8" height="8" fill="#7bff7b"/>
<rect x="662" y="240" width="9" height="8" fill="#67ff90"/>
<rect x="671" y="240" width="8" height="8" fill="#5fff98"/>
<rect x="679" y="240" width="9" height="8" fill="#52ffa5"/>
<rect x="688" y="240" width="8" height="8" fill="#4affad"/>
<rect x="696" y="240" width="9" height="8" fill="#3affbd"/>
<rect x="705" y="240" width="9" height="8" fill="#08f0ef"/>
<rect x="105" y="248" width="8" height="8" fill="#00b2ff"/>
<rect x="113" y="248" width="8" height="8" fill="#0094ff"/>
<rect x="121" y="248" width="9" height="8" fill="#0070ff"/>
<rect x="130" y="248" width="8" height="8" fill="#004dff"/>
<rect x="138" y="248" width="8" height="8" fill="#0029ff"/>
<rect x="146" y="248" width="9" height="8" fill="#000fff"/>
<rect x="155" y="248" width="8" height="8" fill="#0000ff"/>
<rect x="163" y="248" width="9" height="8" fill="#0000ee"/>
<rect x="172" y="248" width="8" height="8" fill="#0000dc"/>
<rect x="180" y="248" width="9" height="8" fill="#0000cb"/>
<rect x="189" y="248" width="17" height="8" fill="#0000bf"/>
<rect x="206" y="248" width="17" height="8" fill="#0000d6"/>
<rect x="223" y="248" width="17" height="8" fill="#0000c5"/>
<rect x="240" y="248" width="8" height="8" fill="#0000ae"/>
<rect x="248" y="248" width="25" height="8" fill="#000091"/>
<rect x="273" y="248" width="9" height="8" fill="#00009c"/>
<rect x="282" y="248" width="8" height="8" fill="#0000b4"/>
<rect x="290" y="248" width="9" height="8" fill="#0000d1"/>
<rect x="299" y="248" width="8" height="8" fill="#0000dc"/>
<rect x="307" y="248" width="9" height="8" fill="#0000e2"/>
<rect x="316" y="248" width="8" height="8" fill="#0000ff"/>
<rect x="324" y="248" width="9" height="8" fill="#0019ff"/>
<rect x="333" y="248" width="8" height="8" fill="#0057ff"/>
<rect x="341" y="248" width="8" height="8" fill="#008aff"/>
<rect x="349" y="248" width="9" height="8" fill="#00bdff"/>
<rect x="358" y="248" width="8" height="8" fill="#29ffce"/>
<rect x="366" y="248" width="9" height="8" fill="#46ffb1"/>
<rect x="375" y="248" width="8" height="8" fill="#29ffce"/>
<rect x="383" y="248" width="9" height="8" fill="#00dbff"/>
<rect x="392" y="248" width="8" height="8" fill="#00b8ff"/>
<rect x="400" y="248" width="9" height="8" fill="#007aff"/>
<rect x="409" y="248" width="8" height="8" fill="#0080ff"/>
<rect x="417" y="248" width="9" height="8" fill="#0094ff"/>
<rect x="426" y="248" width="8" height="8" fill="#00a3ff"/>
<rect x="434" y="248" width="9" height="8" fill="#00c7ff"/>
<rect x="443" y="248" width="8" height="8" fill="#08f0ef"/>
<rect x="451" y="248" width="8" height="8" fill="#29ffce"/>
<rect x="459" y="248" width="9" height="8" fill="#4affad"/>
<rect x="468" y="248" width="8" height="8" fill="#63ff94"/>
<rect x="476" y="248" width="9" height="8" fill="#80ff77"/>
<rect x="485" y="248" width="8" height="8" fill="#88ff6f"/>
<rect x="493" y="248" width="9" height="8" fill="#94ff63"/>
<rect x="502" y="248" width="8" height="8" fill="#adff4a"/>
<rect x="510" y="248" width="9" height="8" fill="#caff2d"/>
<rect x="519" y="248" width="8" height="8" fill="#eaff0c"/>
<rect x="527" y="248" width="17" height="8" fill="#ffde00"/>
<rect x="544" y="248" width="8" height="8" fill="#ffe700"/>
<rect x="552" y="248" width="9" height="8" fill="#f3fa04"/>
<rect x="561" y="248" width="8" height="8" fill="#e6ff10"/>
<rect x="569" y="248" width="9" height="8" fill="#deff19"/>
<rect x="578" y="248" width="8" height="8" fill="#d6ff21"/>
<rect x="586" y="248" width="9" height="8" fill="#ceff29"/>
<rect x="595" y="248" width="8" height="8" fill="#caff2d"/>
<rect x="603" y="248" width="9" height="8" fill="#c5ff31"/>
<rect x="612" y="248" width="8" height="8" fill="#bdff3a"/>
<rect x="620" y="248" width="9" height="8" fill="#b1ff46"/>
<rect x="629" y="248" width="8" height="8" fill="#94ff63"/>
<rect x="637" y="248" width="9" height="8" fill="#6bff8c"/>
<rect x="646" y="248" width="8" height="8" fill="#4affad"/>
<rect x="654" y="248" width="8" height="8" fill="#2dffca"/>
<rect x="662" y="248" width="9" height="8" fill="#1dffda"/>
<rect x="671" y="248" width="8" height="8" fill="#0cf5ea"/>
<rect x="679" y="248" width="9" height="8" fill="#00e5f7"/>
<rect x="688" y="248" width="8" height="8" fill="#00d6ff"/>
<rect x="696" y="248" width="9" height="8" fill="#00ccff"/>
<rect x="705" y="248" width="9" height="8" fill="#00bdff"/>
<rect x="105" y="256" width="8" height="9" fill="#007aff"/>
<rect x="113" y="256" width="8" height="9" fill="#006bff"/>
<rect x="121" y="256" width="9" height="9" fill="#0057ff"/>
<rect x="130" y="256" width="8" height="9" fill="#0038ff"/>
<rect x="138" y="256" width="8" height="9" fill="#0019ff"/>
<rect x="146" y="256" width="9" height="9" fill="#0000ff"/>
<rect x="155" y="256" width="8" height="9" fill="#0000f9"/>
<rect x="163" y="256" width="9" height="9" fill="#0000e8"/>
<rect x="172" y="256" width="8" height="9" fill="#0000d1"/>
<rect x="180" y="256" width="9" height="9" fill="#0000b9"/>
<rect x="189" y="256" width="17" height="9" fill="#0000ae"/>
<rect x="206" y="256" width="8" height="9" fill="#0000b9"/>
<rect x="214" y="256" width="26" height="9" fill="#0000ae"/>
<rect x="240" y="256" width="33" height="9" fill="#000091"/>
<rect x="273" y="256" width="9" height="9" fill="#00009c"/>
<rect x="282" y="256" width="8" height="9" fill="#0000b4"/>
<rect x="290" y="256" width="9" height="9" fill="#0000d1"/>
<rect x="299" y="256" width="8" height="9" fill="#0000e2"/>
<rect x="307" y="256" width="9" height="9" fill="#0000f3"/>
<rect x="316" y="256" width="8" height="9" fill="#0000ff"/>
<rect x="324" y="256" width="9" height="9" fill="#0033ff"/>
<rect x="333" y="256" width="8" height="9" fill="#0066ff"/>
<rect x="341" y="256" width="8" height="9" fill="#0099ff"/>
<rect x="349" y="256" width="9" height="9" fill="#00c7ff"/>
<rect x="358" y="256" width="8" height="9" fill="#15ffe2"/>
<rect x="366" y="256" width="9" height="9" fill="#0cf5ea"/>
<rect x="375" y="256" width="8" height="9" fill="#00d1ff"/>
<rect x="383" y="256" width="9" height="9" fill="#00a8ff"/>
<rect x="392" y="256" width="8" height="9" fill="#0080ff"/>
<rect x="400" y="256" width="9" height="9" fill="#0047ff"/>
<rect x="409" y="256" width="8" height="9" fill="#004dff"/>
<rect x="417" y="256" width="9" height="9" fill="#005cff"/>
<rect x="426" y="256" width="8" height="9" fill="#007aff"/>
<rect x="434" y="256" width="9" height="9" fill="#0099ff"/>
<rect x="443" y="256" width="8" height="9" fill="#00c2ff"/>
<rect x="451" y="256" width="8" height="9" fill="#00e0fb"/>
<rect x="459" y="256" width="9" height="9" fill="#42ffb5"/>
<rect x="468" y="256" width="8" height="9" fill="#5aff9c"/>
<rect x="476" y="256" width="9" height="9" fill="#7bff7b"/>
<rect x="485" y="256" width="8" height="9" fill="#88ff6f"/>
<rect x="493" y="256" width="9" height="9" fill="#98ff5f"/>
<rect x="502" y="256" width="8" height="9" fill="#b1ff46"/>
<rect x="510" y="256" width="9" height="9" fill="#caff2d"/>
<rect x="519" y="256" width="8" height="9" fill="#deff19"/>
<rect x="527" y="256" width="17" height="9" fill="#eaff0c"/>
<rect x="544" y="256" width="8" height="9" fill="#bdff3a"/>
<rect x="552" y="256" width="9" height="9" fill="#98ff5f"/>
<rect x="561" y="256" width="8" height="9" fill="#84ff73"/>
<rect x="569" y="256" width="26" height="9" fill="#7bff7b"/>
<rect x="595" y="256" width="8" height="9" fill="#80ff77"/>
<rect x="603" y="256" width="9" height="9" fill="#6fff88"/>
<rect x="612" y="256" width="8" height="9" fill="#63ff94"/>
<rect x="620" y="256" width="9" height="9" fill="#4effa9"/>
<rect x="629" y="256" width="8" height="9" fill="#21ffd6"/>
<rect x="637" y="256" width="9" height="9" fill="#00e0fb"/>
<rect x="646" y="256" width="8" height="9" fill="#00bdff"/>
<rect x="654" y="256" width="8" height="9" fill="#00a3ff"/>
<rect x="662" y="256" width="9" height="9" fill="#0094ff"/>
<rect x="671" y="256" width="8" height="9" fill="#008aff"/>
<rect x="679" y="256" width="17" height="9" fill="#0080ff"/>
<rect x="696" y="256" width="9" height="9" fill="#007aff"/>
<rect x="705" y="256" width="9" height="9" fill="#0070ff"/>
<rect x="105" y="265" width="8" height="8" fill="#0038ff"/>
<rect x="113" y="265" width="8" height="8" fill="#0033ff"/>
<rect x="121" y="265" width="9" height="8" fill="#0029ff"/>
<rect x="130" y="265" width="8" height="8" fill="#0019ff"/>
<rect x="138" y="265" width="8" height="8" fill="#000aff"/>
<rect x="146" y="265" width="9" height="8" fill="#0000ff"/>
<rect x="155" y="265" width="8" height="8" fill="#0000f9"/>
<rect x="163" y="265" width="9" height="8" fill="#0000e8"/>
<rect x="172" y="265" width="8" height="8" fill="#0000d1"/>
<rect x="180" y="265" width="9" height="8" fill="#0000bf"/>
<rect x="189" y="265" width="51" height="8" fill="#0000ae"/>
<rect x="240" y="265" width="33" height="8" fill="#000091"/>
<rect x="273" y="265" width="9" height="8" fill="#000097"/>
<rect x="282" y="265" width="8" height="8" fill="#0000ae"/>
<rect x="290" y="265" width="9" height="8" fill="#0000d1"/>
<rect x="299" y="265" width="8" height="8" fill="#0000e2"/>
<rect x="307" y="265" width="9" height="8" fill="#0000f3"/>
<rect x="316" y="265" width="8" height="8" fill="#0005ff"/>
<rect x="324" y="265" width="9" height="8" fill="#0038ff"/>
<rect x="333" y="265" width="8" height="8" fill="#006bff"/>
<rect x="341" y="265" width="8" height="8" fill="#008aff"/>
<rect x="349" y="265" width="9" height="8" fill="#00adff"/>
<rect x="358" y="265" width="8" height="8" fill="#00b2ff"/>
<rect x="366" y="265" width="9" height="8" fill="#00a8ff"/>
<rect x="375" y="265" width="8" height="8" fill="#0094ff"/>
<rect x="383" y="265" width="9" height="8" fill="#007aff"/>
<rect x="392" y="265" width="8" height="8" fill="#0061ff"/>
<rect x="400" y="265" width="9" height="8" fill="#0038ff"/>
<rect x="409" y="265" width="8" height="8" fill="#003dff"/>
<rect x="417" y="265" width="9" height="8" fill="#004dff"/>
<rect x="426" y="265" width="8" height="8" fill="#0066ff"/>
<rect x="434" y="265" width="9" height="8" fill="#007aff"/>
<rect x="443" y="265" width="8" height="8" fill="#0094ff"/>
<rect x="451" y="265" width="8" height="8" fill="#00b2ff"/>
<rect x="459" y="265" width="9" height="8" fill="#00c7ff"/>
<rect x="468" y="265" width="8" height="8" fill="#00e5f7"/>
<rect x="476" y="265" width="9" height="8" fill="#10fae6"/>
<rect x="485" y="265" width="8" height="8" fill="#2dffca"/>
<rect x="493" y="265" width="9" height="8" fill="#56ffa0"/>
<rect x="502" y="265" width="8" height="8" fill="#6bff8c"/>
<rect x="510" y="265" width="9" height="8" fill="#7bff7b"/>
<rect x="519" y="265" width="17" height="8" fill="#84ff73"/>
<rect x="536" y="265" width="8" height="8" fill="#7bff7b"/>
<rect x="544" y="265" width="8" height="8" fill="#63ff94"/>
<rect x="552" y="265" width="9" height="8" fill="#3affbd"/>
<rect x="561" y="265" width="8" height="8" fill="#29ffce"/>
<rect x="569" y="265" width="26" height="8" fill="#25ffd2"/>
<rect x="595" y="265" width="8" height="8" fill="#29ffce"/>
<rect x="603" y="265" width="9" height="8" fill="#21ffd6"/>
<rect x="612" y="265" width="8" height="8" fill="#19ffde"/>
<rect x="620" y="265" width="9" height="8" fill="#08f0ef"/>
<rect x="629" y="265" width="8" height="8" fill="#00d6ff"/>
<rect x="637" y="265" width="9" height="8" fill="#00b2ff"/>
<rect x="646" y="265" width="8" height="8" fill="#008fff"/>
<rect x="654" y="265" width="8" height="8" fill="#006bff"/>
<rect x="662" y="265" width="9" height="8" fill="#0057ff"/>
<rect x="671" y="265" width="8" height="8" fill="#004dff"/>
<rect x="679" y="265" width="9" height="8" fill="#0042ff"/>
<rect x="688" y="265" width="8" height="8" fill="#003dff"/>
<rect x="696" y="265" width="9" height="8" fill="#0038ff"/>
<rect x="705" y="265" width="9" height="8" fill="#002dff"/>
<rect x="105" y="273" width="33" height="9" fill="#0029ff"/>
<rect x="138" y="273" width="17" height="9" fill="#0014ff"/>
<rect x="155" y="273" width="8" height="9" fill="#0000ff"/>
<rect x="163" y="273" width="9" height="9" fill="#0000f9"/>
<rect x="172" y="273" width="17" height="9" fill="#0000d6"/>
<rect x="189" y="273" width="17" height="9" fill="#0000c5"/>
<rect x="206" y="273" width="25" height="9" fill="#0000b9"/>
<rect x="231" y="273" width="17" height="9" fill="#0000a2"/>
<rect x="248" y="273" width="25" height="9" fill="#000091"/>
<rect x="273" y="273" width="9" height="9" fill="#000097"/>
<rect x="282" y="273" width="8" height="9" fill="#0000ae"/>
<rect x="290" y="273" width="9" height="9" fill="#0000d1"/>
<rect x="299" y="273" width="8" height="9" fill="#0000e2"/>
<rect x="307" y="273" width="9" height="9" fill="#0000f3"/>
<rect x="316" y="273" width="8" height="9" fill="#0005ff"/>
<rect x="324" y="273" width="9" height="9" fill="#0038ff"/>
<rect x="333" y="273" width="8" height="9" fill="#0061ff"/>
<rect x="341" y="273" width="8" height="9" fill="#0075ff"/>
<rect x="349" y="273" width="17" height="9" fill="#0080ff"/>
<rect x="366" y="273" width="9" height="9" fill="#007aff"/>
<rect x="375" y="273" width="8" height="9" fill="#0070ff"/>
<rect x="383" y="273" width="9" height="9" fill="#0061ff"/>
<rect x="392" y="273" width="8" height="9" fill="#0052ff"/>
<rect x="400" y="273" width="9" height="9" fill="#002eff"/>
<rect x="409" y="273" width="8" height="9" fill="#0033ff"/>
<rect x="417" y="273" width="9" height="9" fill="#0042ff"/>
<rect x="426" y="273" width="8" height="9" fill="#0057ff"/>
<rect x="434" y="273" width="9" height="9" fill="#0066ff"/>
<rect x="443" y="273" width="8" height="9" fill="#0075ff"/>
<rect x="451" y="273" width="8" height="9" fill="#0085ff"/>
<rect x="459" y="273" width="9" height="9" fill="#0094ff"/>
<rect x="468" y="273" width="8" height="9" fill="#00a8ff"/>
<rect x="476" y="273" width="9" height="9" fill="#00b8ff"/>
<rect x="485" y="273" width="8" height="9" fill="#00c7ff"/>
<rect x="493" y="273" width="9" height="9" fill="#00d6ff"/>
<rect x="502" y="273" width="8" height="9" fill="#08f0ef"/>
<rect x="510" y="273" width="9" height="9" fill="#15ffe2"/>
<rect x="519" y="273" width="8" height="9" fill="#19ffde"/>
<rect x="527" y="273" width="9" height="9" fill="#15ffe2"/>
<rect x="536" y="273" width="8" height="9" fill="#00e0fb"/>
<rect x="544" y="273" width="8" height="9" fill="#00bdff"/>
<rect x="552" y="273" width="9" height="9" fill="#00a3ff"/>
<rect x="561" y="273" width="8" height="9" fill="#009eff"/>
<rect x="569" y="273" width="9" height="9" fill="#00a3ff"/>
<rect x="578" y="273" width="8" height="9" fill="#00b2ff"/>
<rect x="586" y="273" width="17" height="9" fill="#00bdff"/>
<rect x="603" y="273" width="9" height="9" fill="#00b8ff"/>
<rect x="612" y="273" width="8" height="9" fill="#00b2ff"/>
<rect x="620" y="273" width="9" height="9" fill="#00a8ff"/>
<rect x="629" y="273" width="8" height="9" fill="#0099ff"/>
<rect x="637" y="273" width="9" height="9" fill="#0085ff"/>
<rect x="646" y="273" width="8" height="9" fill="#0070ff"/>
<rect x="654" y="273" width="8" height="9" fill="#0057ff"/>
<rect x="662" y="273" width="9" height="9" fill="#0042ff"/>
<rect x="671" y="273" width="8" height="9" fill="#0033ff"/>
<rect x="679" y="273" width="9" height="9" fill="#0029ff"/>
<rect x="688" y="273" width="8" height="9" fill="#0024ff"/>
<rect x="696" y="273" width="9" height="9" fill="#001fff"/>
<rect x="705" y="273" width="9" height="9" fill="#0016ff"/>
<rect x="105" y="282" width="33" height="8" fill="#002eff"/>
<rect x="138" y="282" width="8" height="8" fill="#0024ff"/>
<rect x="146" y="282" width="9" height="8" fill="#0014ff"/>
<rect x="155" y="282" width="25" height="8" fill="#0000ff"/>
<rect x="180" y="282" width="9" height="8" fill="#0000e8"/>
<rect x="189" y="282" width="17" height="8" fill="#0000d6"/>
<rect x="206" y="282" width="8" height="8" fill="#0000c6"/>
<rect x="214" y="282" width="9" height="8" fill="#0000b7"/>
<rect x="223" y="282" width="8" height="8" fill="#0000ae"/>
<rect x="231" y="282" width="9" height="8" fill="#0000ac"/>
<rect x="240" y="282" width="8" height="8" fill="#0000a9"/>
<rect x="248" y="282" width="8" height="8" fill="#0000a2"/>
<rect x="256" y="282" width="9" height="8" fill="#000098"/>
<rect x="265" y="282" width="17" height="8" fill="#000091"/>
<rect x="282" y="282" width="8" height="8" fill="#00009b"/>
<rect x="290" y="282" width="9" height="8" fill="#0000b7"/>
<rect x="299" y="282" width="8" height="8" fill="#0000e2"/>
<rect x="307" y="282" width="9" height="8" fill="#0000f3"/>
<rect x="316" y="282" width="8" height="8" fill="#0000ff"/>
<rect x="324" y="282" width="9" height="8" fill="#002eff"/>
<rect x="333" y="282" width="8" height="8" fill="#0047ff"/>
<rect x="341" y="282" width="8" height="8" fill="#0057ff"/>
<rect x="349" y="282" width="26" height="8" fill="#005cff"/>
<rect x="375" y="282" width="8" height="8" fill="#0057ff"/>
<rect x="383" y="282" width="9" height="8" fill="#004dff"/>
<rect x="392" y="282" width="8" height="8" fill="#0042ff"/>
<rect x="400" y="282" width="9" height="8" fill="#0029ff"/>
<rect x="409" y="282" width="8" height="8" fill="#002eff"/>
<rect x="417" y="282" width="9" height="8" fill="#0038ff"/>
<rect x="426" y="282" width="8" height="8" fill="#004dff"/>
<rect x="434" y="282" width="9" height="8" fill="#0057ff"/>
<rect x="443" y="282" width="8" height="8" fill="#0061ff"/>
<rect x="451" y="282" width="8" height="8" fill="#0066ff"/>
<rect x="459" y="282" width="9" height="8" fill="#006bff"/>
<rect x="468" y="282" width="8" height="8" fill="#0070ff"/>
<rect x="476" y="282" width="9" height="8" fill="#007aff"/>
<rect x="485" y="282" width="17" height="8" fill="#0080ff"/>
<rect x="502" y="282" width="25" height="8" fill="#0085ff"/>
<rect x="527" y="282" width="9" height="8" fill="#0080ff"/>
<rect x="536" y="282" width="8" height="8" fill="#0070ff"/>
<rect x="544" y="282" width="8" height="8" fill="#005cff"/>
<rect x="552" y="282" width="9" height="8" fill="#004dff"/>
<rect x="561" y="282" width="8" height="8" fill="#0047ff"/>
<rect x="569" y="282" width="9" height="8" fill="#004dff"/>
<rect x="578" y="282" width="8" height="8" fill="#005cff"/>
<rect x="586" y="282" width="9" height="8" fill="#006bff"/>
<rect x="595" y="282" width="8" height="8" fill="#0070ff"/>
<rect x="603" y="282" width="17" height="8" fill="#0075ff"/>
<rect x="620" y="282" width="9" height="8" fill="#0070ff"/>
<rect x="629" y="282" width="8" height="8" fill="#0066ff"/>
<rect x="637" y="282" width="9" height="8" fill="#0057ff"/>
<rect x="646" y="282" width="8" height="8" fill="#0047ff"/>
<rect x="654" y="282" width="8" height="8" fill="#0038ff"/>
<rect x="662" y="282" width="9" height="8" fill="#0029ff"/>
<rect x="671" y="282" width="8" height="8" fill="#0019ff"/>
<rect x="679" y="282" width="9" height="8" fill="#0014ff"/>
<rect x="688" y="282" width="17" height="8" fill="#000fff"/>
<rect x="705" y="282" width="9" height="8" fill="#0009ff"/>
<rect x="105" y="290" width="25" height="9" fill="#002eff"/>
<rect x="130" y="290" width="25" height="9" fill="#0024ff"/>
<rect x="155" y="290" width="8" height="9" fill="#000fff"/>
<rect x="163" y="290" width="17" height="9" fill="#0000ff"/>
<rect x="180" y="290" width="17" height="9" fill="#0000f3"/>
<rect x="197" y="290" width="9" height="9" fill="#0000e8"/>
<rect x="206" y="290" width="8" height="9" fill="#0000db"/>
<rect x="214" y="290" width="9" height="9" fill="#0000d3"/>
<rect x="223" y="290" width="8" height="9" fill="#0000cb"/>
<rect x="231" y="290" width="9" height="9" fill="#0000c0"/>
<rect x="240" y="290" width="8" height="9" fill="#0000b7"/>
<rect x="248" y="290" width="8" height="9" fill="#0000ad"/>
<rect x="256" y="290" width="9" height="9" fill="#00009f"/>
<rect x="265" y="290" width="8" height="9" fill="#000097"/>
<rect x="273" y="290" width="9" height="9" fill="#000096"/>
<rect x="282" y="290" width="8" height="9" fill="#00009f"/>
<rect x="290" y="290" width="9" height="9" fill="#0000b8"/>
<rect x="299" y="290" width="8" height="9" fill="#0000e2"/>
<rect x="307" y="290" width="9" height="9" fill="#0000f3"/>
<rect x="316" y="290" width="8" height="9" fill="#0000ff"/>
<rect x="324" y="290" width="9" height="9" fill="#0019ff"/>
<rect x="333" y="290" width="8" height="9" fill="#002eff"/>
<rect x="341" y="290" width="8" height="9" fill="#003dff"/>
<rect x="349" y="290" width="9" height="9" fill="#0042ff"/>
<rect x="358" y="290" width="17" height="9" fill="#0047ff"/>
<rect x="375" y="290" width="8" height="9" fill="#0042ff"/>
<rect x="383" y="290" width="9" height="9" fill="#003dff"/>
<rect x="392" y="290" width="8" height="9" fill="#0033ff"/>
<rect x="400" y="290" width="17" height="9" fill="#0029ff"/>
<rect x="417" y="290" width="9" height="9" fill="#0033ff"/>
<rect x="426" y="290" width="8" height="9" fill="#0042ff"/>
<rect x="434" y="290" width="9" height="9" fill="#004dff"/>
<rect x="443" y="290" width="8" height="9" fill="#0052ff"/>
<rect x="451" y="290" width="17" height="9" fill="#0057ff"/>
<rect x="468" y="290" width="25" height="9" fill="#005cff"/>
<rect x="493" y="290" width="9" height="9" fill="#0057ff"/>
<rect x="502" y="290" width="8" height="9" fill="#0052ff"/>
<rect x="510" y="290" width="9" height="9" fill="#0047ff"/>
<rect x="519" y="290" width="8" height="9" fill="#0038ff"/>
<rect x="527" y="290" width="9" height="9" fill="#0024ff"/>
<rect x="536" y="290" width="8" height="9" fill="#000fff"/>
<rect x="544" y="290" width="34" height="9" fill="#0000ff"/>
<rect x="578" y="290" width="8" height="9" fill="#0014ff"/>
<rect x="586" y="290" width="9" height="9" fill="#001fff"/>
<rect x="595" y="290" width="8" height="9" fill="#0029ff"/>
<rect x="603" y="290" width="26" height="9" fill="#0042ff"/>
<rect x="629" y="290" width="8" height="9" fill="#003dff"/>
<rect x="637" y="290" width="9" height="9" fill="#0038ff"/>
<rect x="646" y="290" width="8" height="9" fill="#002eff"/>
<rect x="654" y="290" width="8" height="9" fill="#0024ff"/>
<rect x="662" y="290" width="9" height="9" fill="#0014ff"/>
<rect x="671" y="290" width="8" height="9" fill="#000aff"/>
<rect x="679" y="290" width="26" height="9" fill="#0005ff"/>
<rect x="705" y="290" width="9" height="9" fill="#0000ff"/>
<rect x="105" y="299" width="41" height="8" fill="#0014ff"/>
<rect x="146" y="299" width="17" height="8" fill="#000aff"/>
<rect x="163" y="299" width="26" height="8" fill="#0000ff"/>
<rect x="189" y="299" width="17" height="8" fill="#0000ee"/>
<rect x="206" y="299" width="8" height="8" fill="#0000ea"/>
<rect x="214" y="299" width="9" height="8" fill="#0000e2"/>
<rect x="223" y="299" width="8" height="8" fill="#0000d8"/>
<rect x="231" y="299" width="9" height="8" fill="#0000d1"/>
<rect x="240" y="299" width="8" height="8" fill="#0000cb"/>
<rect x="248" y="299" width="8" height="8" fill="#0000be"/>
<rect x="256" y="299" width="9" height="8" fill="#0000aa"/>
<rect x="265" y="299" width="8" height="8" fill="#00009e"/>
<rect x="273" y="299" width="9" height="8" fill="#00009c"/>
<rect x="282" y="299" width="8" height="8" fill="#0000a6"/>
<rect x="290" y="299" width="9" height="8" fill="#0000bc"/>
<rect x="299" y="299" width="8" height="8" fill="#0000dc"/>
<rect x="307" y="299" width="9" height="8" fill="#0000f3"/>
<rect x="316" y="299" width="17" height="8" fill="#0000ff"/>
<rect x="333" y="299" width="8" height="8" fill="#0019ff"/>
<rect x="341" y="299" width="8" height="8" fill="#0029ff"/>
<rect x="349" y="299" width="9" height="8" fill="#0033ff"/>
<rect x="358" y="299" width="25" height="8" fill="#0038ff"/>
<rect x="383" y="299" width="9" height="8" fill="#0033ff"/>
<rect x="392" y="299" width="8" height="8" fill="#002eff"/>
<rect x="400" y="299" width="9" height="8" fill="#0029ff"/>
<rect x="409" y="299" width="8" height="8" fill="#002eff"/>
<rect x="417" y="299" width="9" height="8" fill="#0033ff"/>
<rect x="426" y="299" width="8" height="8" fill="#003dff"/>
<rect x="434" y="299" width="51" height="8" fill="#0047ff"/>
<rect x="485" y="299" width="17" height="8" fill="#0042ff"/>
<rect x="502" y="299" width="8" height="8" fill="#0033ff"/>
<rect x="510" y="299" width="9" height="8" fill="#001fff"/>
<rect x="519" y="299" width="76" height="8" fill="#0000ff"/>
<rect x="595" y="299" width="8" height="8" fill="#000aff"/>
<rect x="603" y="299" width="9" height="8" fill="#000fff"/>
<rect x="612" y="299" width="34" height="8" fill="#0014ff"/>
<rect x="646" y="299" width="8" height="8" fill="#000fff"/>
<rect x="654" y="299" width="8" height="8" fill="#000aff"/>
<rect x="662" y="299" width="9" height="8" fill="#0005ff"/>
<rect x="671" y="299" width="34" height="8" fill="#0000ff"/>
<rect x="705" y="299" width="9" height="8" fill="#0000f9"/>
<rect x="105" y="307" width="50" height="9" fill="#0000ff"/>
<rect x="155" y="307" width="34" height="9" fill="#0000f9"/>
<rect x="189" y="307" width="17" height="9" fill="#0000e8"/>
<rect x="206" y="307" width="17" height="9" fill="#0000e2"/>
<rect x="223" y="307" width="33" height="9" fill="#0000d1"/>
<rect x="256" y="307" width="34" height="9" fill="#0000b9"/>
<rect x="290" y="307" width="9" height="9" fill="#0000cb"/>
<rect x="299" y="307" width="8" height="9" fill="#0000dc"/>
<rect x="307" y="307" width="9" height="9" fill="#0000e8"/>
<rect x="316" y="307" width="8" height="9" fill="#0000f9"/>
<rect x="324" y="307" width="9" height="9" fill="#0000ff"/>
<rect x="333" y="307" width="8" height="9" fill="#000fff"/>
<rect x="341" y="307" width="8" height="9" fill="#001fff"/>
<rect x="349" y="307" width="9" height="9" fill="#0029ff"/>
<rect x="358" y="307" width="68" height="9" fill="#002eff"/>
<rect x="426" y="307" width="50" height="9" fill="#0038ff"/>
<rect x="476" y="307" width="9" height="9" fill="#0033ff"/>
<rect x="485" y="307" width="8" height="9" fill="#0029ff"/>
<rect x="493" y="307" width="9" height="9" fill="#001fff"/>
<rect x="502" y="307" width="8" height="9" fill="#0000ff"/>
<rect x="510" y="307" width="85" height="9" fill="#0000f9"/>
<rect x="595" y="307" width="110" height="9" fill="#0000ff"/>
<rect x="705" y="307" width="9" height="9" fill="#0000f3"/>
<rect x="105" y="316" width="8" height="8" fill="#0000e2"/>
<rect x="113" y="316" width="93" height="8" fill="#0000dc"/>
<rect x="206" y="316" width="25" height="8" fill="#0000cb"/>
<rect x="231" y="316" width="59" height="8" fill="#0000b9"/>
<rect x="290" y="316" width="9" height="8" fill="#0000d1"/>
<rect x="299" y="316" width="8" height="8" fill="#0000d6"/>
<rect x="307" y="316" width="9" height="8" fill="#0000e2"/>
<rect x="316" y="316" width="8" height="8" fill="#0000f3"/>
<rect x="324" y="316" width="9" height="8" fill="#0000ff"/>
<rect x="333" y="316" width="8" height="8" fill="#000aff"/>
<rect x="341" y="316" width="8" height="8" fill="#0014ff"/>
<rect x="349" y="316" width="9" height="8" fill="#001fff"/>
<rect x="358" y="316" width="42" height="8" fill="#0029ff"/>
<rect x="400" y="316" width="59" height="8" fill="#002eff"/>
<rect x="459" y="316" width="17" height="8" fill="#0024ff"/>
<rect x="476" y="316" width="9" height="8" fill="#0014ff"/>
<rect x="485" y="316" width="17" height="8" fill="#0000ff"/>
<rect x="502" y="316" width="67" height="8" fill="#0000f3"/>
<rect x="569" y="316" width="26" height="8" fill="#0000ee"/>
<rect x="595" y="316" width="110" height="8" fill="#0000f9"/>
<rect x="705" y="316" width="9" height="8" fill="#0000e4"/>
<rect x="105" y="324" width="8" height="8" fill="#0000d6"/>
<rect x="113" y="324" width="118" height="8" fill="#0000cb"/>
<rect x="231" y="324" width="59" height="8" fill="#0000b9"/>
<rect x="290" y="324" width="9" height="8" fill="#0000cb"/>
<rect x="299" y="324" width="8" height="8" fill="#0000d1"/>
<rect x="307" y="324" width="9" height="8" fill="#0000dc"/>
<rect x="316" y="324" width="8" height="8" fill="#0000ee"/>
<rect x="324" y="324" width="17" height="8" fill="#0000ff"/>
<rect x="341" y="324" width="8" height="8" fill="#000fff"/>
<rect x="349" y="324" width="9" height="8" fill="#0019ff"/>
<rect x="358" y="324" width="93" height="8" fill="#0024ff"/>
<rect x="451" y="324" width="17" height="8" fill="#0014ff"/>
<rect x="468" y="324" width="8" height="8" fill="#0005ff"/>
<rect x="476" y="324" width="26" height="8" fill="#0000ff"/>
<rect x="502" y="324" width="67" height="8" fill="#0000f3"/>
<rect x="569" y="324" width="26" height="8" fill="#0000e8"/>
<rect x="595" y="324" width="76" height="8" fill="#0000f3"/>
<rect x="671" y="324" width="34" height="8" fill="#0000e8"/>
<rect x="705" y="324" width="9" height="8" fill="#0000d6"/>
<rect x="105" y="332" width="8" height="9" fill="#0000c5"/>
<rect x="113" y="332" width="93" height="9" fill="#0000b4"/>
<rect x="206" y="332" width="76" height="9" fill="#0000b9"/>
<rect x="282" y="332" width="8" height="9" fill="#0000cb"/>
<rect x="290" y="332" width="9" height="9" fill="#0000d1"/>
<rect x="299" y="332" width="8" height="9" fill="#0000dd"/>
<rect x="307" y="332" width="9" height="9" fill="#0000e4"/>
<rect x="316" y="332" width="8" height="9" fill="#0000e8"/>
<rect x="324" y="332" width="9" height="9" fill="#0000ef"/>
<rect x="333" y="332" width="8" height="9" fill="#0000fd"/>
<rect x="341" y="332" width="8" height="9" fill="#0000ff"/>
<rect x="349" y="332" width="9" height="9" fill="#0001ff"/>
<rect x="358" y="332" width="8" height="9" fill="#0009ff"/>
<rect x="366" y="332" width="9" height="9" fill="#000fff"/>
<rect x="375" y="332" width="8" height="9" fill="#0013ff"/>
<rect x="383" y="332" width="17" height="9" fill="#0014ff"/>
<rect x="400" y="332" width="9" height="9" fill="#0012ff"/>
<rect x="409" y="332" width="8" height="9" fill="#0011ff"/>
<rect x="417" y="332" width="9" height="9" fill="#000fff"/>
<rect x="426" y="332" width="8" height="9" fill="#000eff"/>
<rect x="434" y="332" width="9" height="9" fill="#000aff"/>
<rect x="443" y="332" width="8" height="9" fill="#0005ff"/>
<rect x="451" y="332" width="17" height="9" fill="#0000ff"/>
<rect x="468" y="332" width="8" height="9" fill="#0000f7"/>
<rect x="476" y="332" width="9" height="9" fill="#0000ee"/>
<rect x="485" y="332" width="59" height="9" fill="#0000eb"/>
<rect x="544" y="332" width="8" height="9" fill="#0000ea"/>
<rect x="552" y="332" width="9" height="9" fill="#0000e6"/>
<rect x="561" y="332" width="8" height="9" fill="#0000e0"/>
<rect x="569" y="332" width="17" height="9" fill="#0000db"/>
<rect x="586" y="332" width="9" height="9" fill="#0000e0"/>
<rect x="595" y="332" width="8" height="9" fill="#0000e6"/>
<rect x="603" y="332" width="9" height="9" fill="#0000ea"/>
<rect x="612" y="332" width="34" height="9" fill="#0000eb"/>
<rect x="646" y="332" width="8" height="9" fill="#0000e9"/>
<rect x="654" y="332" width="8" height="9" fill="#0000dd"/>
<rect x="662" y="332" width="9" height="9" fill="#0000cb"/>
<rect x="671" y="332" width="8" height="9" fill="#0000bf"/>
<rect x="679" y="332" width="35" height="9" fill="#0000bd"/>
<rect x="105" y="341" width="8" height="8" fill="#0000b9"/>
<rect x="113" y="341" width="93" height="8" fill="#0000ae"/>
<rect x="206" y="341" width="76" height="8" fill="#0000b9"/>
<rect x="282" y="341" width="8" height="8" fill="#0000d1"/>
<rect x="290" y="341" width="9" height="8" fill="#0000dc"/>
<rect x="299" y="341" width="8" height="8" fill="#0000e6"/>
<rect x="307" y="341" width="9" height="8" fill="#0000ea"/>
<rect x="316" y="341" width="8" height="8" fill="#0000eb"/>
<rect x="324" y="341" width="9" height="8" fill="#0000ee"/>
<rect x="333" y="341" width="8" height="8" fill="#0000f7"/>
<rect x="341" y="341" width="17" height="8" fill="#0000ff"/>
<rect x="358" y="341" width="8" height="8" fill="#0001ff"/>
<rect x="366" y="341" width="9" height="8" fill="#0002ff"/>
<rect x="375" y="341" width="8" height="8" fill="#0003ff"/>
<rect x="383" y="341" width="17" height="8" fill="#0004ff"/>
<rect x="400" y="341" width="9" height="8" fill="#0003ff"/>
<rect x="409" y="341" width="8" height="8" fill="#0002ff"/>
<rect x="417" y="341" width="26" height="8" fill="#0000ff"/>
<rect x="443" y="341" width="8" height="8" fill="#0000f7"/>
<rect x="451" y="341" width="8" height="8" fill="#0000ee"/>
<rect x="459" y="341" width="68" height="8" fill="#0000eb"/>
<rect x="527" y="341" width="9" height="8" fill="#0000ea"/>
<rect x="536" y="341" width="8" height="8" fill="#0000e6"/>
<rect x="544" y="341" width="8" height="8" fill="#0000e0"/>
<rect x="552" y="341" width="17" height="8" fill="#0000dd"/>
<rect x="569" y="341" width="9" height="8" fill="#0000e0"/>
<rect x="578" y="341" width="8" height="8" fill="#0000e2"/>
<rect x="586" y="341" width="9" height="8" fill="#0000eb"/>
<rect x="595" y="341" width="8" height="8" fill="#0000f9"/>
<rect x="603" y="341" width="43" height="8" fill="#0000ff"/>
<rect x="646" y="341" width="8" height="8" fill="#0000f7"/>
<rect x="654" y="341" width="8" height="8" fill="#0000e6"/>
<rect x="662" y="341" width="9" height="8" fill="#0000d2"/>
<rect x="671" y="341" width="8" height="8" fill="#0000c2"/>
<rect x="679" y="341" width="9" height="8" fill="#0000b9"/>
<rect x="688" y="341" width="26" height="8" fill="#0000b7"/>
<rect x="105" y="349" width="8" height="9" fill="#0000ee"/>
<rect x="113" y="349" width="143" height="9" fill="#0000cb"/>
<rect x="256" y="349" width="9" height="9" fill="#0000dc"/>
<rect x="265" y="349" width="8" height="9" fill="#0000e8"/>
<rect x="273" y="349" width="34" height="9" fill="#0000ee"/>
<rect x="307" y="349" width="9" height="9" fill="#0000e9"/>
<rect x="316" y="349" width="8" height="9" fill="#0000e8"/>
<rect x="324" y="349" width="9" height="9" fill="#0000ef"/>
<rect x="333" y="349" width="8" height="9" fill="#0000fc"/>
<rect x="341" y="349" width="85" height="9" fill="#0000ff"/>
<rect x="426" y="349" width="8" height="9" fill="#0000fc"/>
<rect x="434" y="349" width="9" height="9" fill="#0000ef"/>
<rect x="443" y="349" width="8" height="9" fill="#0000e8"/>
<rect x="451" y="349" width="76" height="9" fill="#0000e6"/>
<rect x="527" y="349" width="9" height="9" fill="#0000e4"/>
<rect x="536" y="349" width="8" height="9" fill="#0000e2"/>
<rect x="544" y="349" width="17" height="9" fill="#0000df"/>
<rect x="561" y="349" width="8" height="9" fill="#0000e2"/>
<rect x="569" y="349" width="9" height="9" fill="#0000e4"/>
<rect x="578" y="349" width="8" height="9" fill="#0000e8"/>
<rect x="586" y="349" width="9" height="9" fill="#0000f3"/>
<rect x="595" y="349" width="59" height="9" fill="#0000ff"/>
<rect x="654" y="349" width="8" height="9" fill="#0000f0"/>
<rect x="662" y="349" width="9" height="9" fill="#0000db"/>
<rect x="671" y="349" width="8" height="9" fill="#0000ca"/>
<rect x="679" y="349" width="9" height="9" fill="#0000bf"/>
<rect x="688" y="349" width="26" height="9" fill="#0000bd"/>
<rect x="105" y="358" width="8" height="8" fill="#0000ee"/>
<rect x="113" y="358" width="143" height="8" fill="#0000cb"/>
<rect x="256" y="358" width="9" height="8" fill="#0000dc"/>
<rect x="265" y="358" width="8" height="8" fill="#0000e8"/>
<rect x="273" y="358" width="34" height="8" fill="#0000ee"/>
<rect x="307" y="358" width="9" height="8" fill="#0000e9"/>
<rect x="316" y="358" width="84" height="8" fill="#0000e6"/>
<rect x="400" y="358" width="9" height="8" fill="#0000e3"/>
<rect x="409" y="358" width="8" height="8" fill="#0000e2"/>
<rect x="417" y="358" width="127" height="8" fill="#0000e0"/>
<rect x="544" y="358" width="8" height="8" fill="#0000e2"/>
<rect x="552" y="358" width="9" height="8" fill="#0000e9"/>
<rect x="561" y="358" width="8" height="8" fill="#0000f6"/>
<rect x="569" y="358" width="9" height="8" fill="#0000fd"/>
<rect x="578" y="358" width="25" height="8" fill="#0000ff"/>
<rect x="603" y="358" width="51" height="8" fill="#0005ff"/>
<rect x="654" y="358" width="17" height="8" fill="#0000ff"/>
<rect x="671" y="358" width="8" height="8" fill="#0000f2"/>
<rect x="679" y="358" width="9" height="8" fill="#0000db"/>
<rect x="688" y="358" width="8" height="8" fill="#0000cc"/>
<rect x="696" y="358" width="18" height="8" fill="#0000c9"/>
<rect x="105" y="366" width="25" height="9" fill="#0000ff"/>
<rect x="130" y="366" width="8" height="9" fill="#0000fd"/>
<rect x="138" y="366" width="8" height="9" fill="#0000f1"/>
<rect x="146" y="366" width="9" height="9" fill="#0000e2"/>
<rect x="155" y="366" width="8" height="9" fill="#0000d6"/>
<rect x="163" y="366" width="26" height="9" fill="#0000d4"/>
<rect x="189" y="366" width="8" height="9" fill="#0000d5"/>
<rect x="197" y="366" width="9" height="9" fill="#0000da"/>
<rect x="206" y="366" width="8" height="9" fill="#0000e0"/>
<rect x="214" y="366" width="9" height="9" fill="#0000e4"/>
<rect x="223" y="366" width="17" height="9" fill="#0000e6"/>
<rect x="240" y="366" width="8" height="9" fill="#0000e8"/>
<rect x="248" y="366" width="8" height="9" fill="#0000ef"/>
<rect x="256" y="366" width="9" height="9" fill="#0000fc"/>
<rect x="265" y="366" width="34" height="9" fill="#0000ff"/>
<rect x="299" y="366" width="8" height="9" fill="#0000f6"/>
<rect x="307" y="366" width="9" height="9" fill="#0000e3"/>
<rect x="316" y="366" width="8" height="9" fill="#0000d8"/>
<rect x="324" y="366" width="42" height="9" fill="#0000d4"/>
<rect x="366" y="366" width="9" height="9" fill="#0000d6"/>
<rect x="375" y="366" width="8" height="9" fill="#0000d8"/>
<rect x="383" y="366" width="9" height="9" fill="#0000da"/>
<rect x="392" y="366" width="8" height="9" fill="#0000db"/>
<rect x="400" y="366" width="9" height="9" fill="#0000dd"/>
<rect x="409" y="366" width="8" height="9" fill="#0000e2"/>
<rect x="417" y="366" width="9" height="9" fill="#0000e4"/>
<rect x="426" y="366" width="118" height="9" fill="#0000e6"/>
<rect x="544" y="366" width="8" height="9" fill="#0000e8"/>
<rect x="552" y="366" width="9" height="9" fill="#0000f1"/>
<rect x="561" y="366" width="25" height="9" fill="#0000ff"/>
<rect x="586" y="366" width="9" height="9" fill="#0004ff"/>
<rect x="595" y="366" width="67" height="9" fill="#0014ff"/>
<rect x="662" y="366" width="9" height="9" fill="#000bff"/>
<rect x="671" y="366" width="8" height="9" fill="#0005ff"/>
<rect x="679" y="366" width="35" height="9" fill="#0000ff"/>
<rect x="105" y="375" width="473" height="8" fill="#0000ff"/>
<rect x="578" y="375" width="8" height="8" fill="#0002ff"/>
<rect x="586" y="375" width="9" height="8" fill="#0009ff"/>
<rect x="595" y="375" width="76" height="8" fill="#0019ff"/>
<rect x="671" y="375" width="8" height="8" fill="#0013ff"/>
<rect x="679" y="375" width="9" height="8" fill="#0010ff"/>
<rect x="688" y="375" width="26" height="8" fill="#000fff"/>
<rect x="105" y="383" width="58" height="8" fill="#0019ff"/>
<rect x="163" y="383" width="9" height="8" fill="#0017ff"/>
<rect x="172" y="383" width="8" height="8" fill="#0010ff"/>
<rect x="180" y="383" width="9" height="8" fill="#0004ff"/>
<rect x="189" y="383" width="330" height="8" fill="#0000ff"/>
<rect x="519" y="383" width="8" height="8" fill="#0002ff"/>
<rect x="527" y="383" width="9" height="8" fill="#0008ff"/>
<rect x="536" y="383" width="16" height="8" fill="#000aff"/>
<rect x="552" y="383" width="9" height="8" fill="#0008ff"/>
<rect x="561" y="383" width="8" height="8" fill="#0007ff"/>
<rect x="569" y="383" width="9" height="8" fill="#0005ff"/>
<rect x="578" y="383" width="8" height="8" fill="#0006ff"/>
<rect x="586" y="383" width="9" height="8" fill="#000dff"/>
<rect x="595" y="383" width="119" height="8" fill="#0019ff"/>
</g>
<g clip-path="url(#axclip)">
<path d="M206.5 114.9L214.9 115.4L216.6 113.7L209.8 113.2ZM242.0 117.1L247.9 117.1L248.8 114.9L243.7 114.2L239.5 115.4ZM250.4 117.1L254.7 117.6L254.7 116.4L251.3 116.1ZM244.5 127.3L250.4 128.1L251.3 126.4L247.1 125.6ZM272.4 137.9L276.7 138.6L277.5 137.6L273.3 137.3ZM281.7 129.8L285.1 130.3L285.1 128.6L282.6 128.5ZM274.1 154.0L276.7 154.7L276.2 154.0ZM303.7 159.6L308.0 160.8L307.1 160.1ZM304.6 165.0L308.0 165.5L307.1 166.2ZM223.4 112.9L228.5 113.2L226.8 111.7ZM236.9 111.5L245.4 112.0L243.7 110.4L236.9 110.4ZM248.8 112.0L252.1 112.4L250.4 110.7ZM235.2 120.2L236.1 118.8L242.0 119.0L242.8 120.5ZM110.9 271.6L108.7 272.4L109.5 271.4ZM694.5 269.4L695.9 270.7L695.4 271.9L694.7 270.7ZM309.3 217.6L309.7 219.5L310.0 219.1ZM506.2 279.5L507.2 279.9L506.7 280.2ZM384.4 196.1L385.6 195.8L385.1 196.6ZM369.2 180.1L370.4 180.1L369.9 180.2ZM148.1 123.4L155.7 124.2L162.5 125.1L170.9 125.4L174.3 126.3L181.1 127.3L186.2 126.4L192.9 125.4L196.3 124.9L201.4 126.4L208.2 125.9L214.9 127.4L220.0 128.6L226.8 129.1L230.1 128.5L235.2 128.1L240.3 129.3L247.1 128.5L250.4 129.8L251.3 128.1L253.0 122.4L256.4 126.4L259.8 128.1L264.0 127.6L268.2 126.1L274.1 126.4L275.3 128.1L274.1 131.5L269.9 132.0L267.4 131.5L265.7 133.2L264.0 135.4L259.8 136.2L255.5 140.0L253.0 142.5L253.5 144.5L256.4 147.6L260.6 147.6L264.0 148.4L269.1 150.4L273.6 150.8L274.1 154.3L275.8 156.9L278.4 157.4L279.5 155.2L279.2 151.8L282.6 149.3L283.4 146.7L280.9 144.5L281.7 141.7L280.9 138.6L287.7 138.6L294.4 140.8L295.3 144.2L298.7 145.4L302.0 142.8L303.7 142.0L308.0 145.9L309.7 149.3L313.0 151.0L316.4 153.0L318.5 155.2L316.4 156.9L311.3 159.1L304.6 158.9L300.4 159.1L297.0 161.1L293.6 164.2L295.3 163.1L299.5 160.6L303.7 161.1L303.7 162.8L302.0 163.6L303.7 165.7L305.4 166.2L308.8 166.5L311.3 165.3L311.3 166.5L309.7 167.4L305.4 168.6L301.5 170.2L300.9 168.7L303.2 166.9L299.5 167.9L296.1 169.6L293.6 170.7L293.1 172.1L294.4 173.3L291.9 174.0L288.0 175.0L287.7 176.3L286.3 178.0L285.1 178.9L284.3 181.1L284.6 183.1L285.1 184.3L282.6 185.6L280.1 186.7L277.5 189.0L275.5 191.0L275.1 193.2L276.7 196.3L277.5 198.8L276.8 201.4L275.5 201.4L274.5 199.7L272.8 197.0L272.9 194.9L270.7 193.2L268.2 193.6L265.7 192.6L262.3 192.7L261.8 194.6L258.9 194.4L254.7 193.6L252.1 194.6L248.8 197.0L248.2 200.0L247.6 203.4L247.4 206.3L248.4 208.8L250.4 211.5L252.6 213.0L256.4 212.5L258.9 211.9L259.8 208.8L262.3 207.8L265.7 207.6L264.8 210.5L264.0 212.7L263.5 214.9L262.6 217.1L267.4 217.1L270.7 217.3L271.9 218.6L271.6 222.0L271.1 224.9L272.4 227.1L273.8 228.6L275.8 229.1L277.9 228.1L280.1 228.1L281.9 229.5L281.1 231.8L280.1 230.0L278.0 228.9L276.8 230.3L277.2 231.5L275.0 231.1L272.6 230.1L271.3 229.3L269.1 227.1L267.7 225.6L266.2 223.7L264.8 222.0L263.1 221.7L260.6 220.8L258.1 220.3L256.4 219.1L253.8 216.8L251.3 217.3L248.8 217.3L245.4 215.9L242.0 214.7L238.6 213.0L236.1 211.5L234.4 209.5L234.7 207.6L233.5 205.1L230.1 201.7L227.6 198.8L225.1 196.6L222.5 193.6L221.3 191.2L218.8 190.4L219.2 193.2L221.7 196.6L224.2 200.0L225.9 202.6L227.6 204.8L226.8 205.3L224.2 202.9L223.0 200.0L220.0 197.5L219.2 195.8L217.0 192.7L215.3 189.9L214.4 188.2L212.4 186.5L209.0 185.6L206.8 182.3L205.6 180.1L203.4 177.2L202.6 175.7L202.7 172.9L202.2 171.3L203.1 167.9L203.1 165.7L201.9 162.1L204.8 162.5L205.1 161.1L204.4 160.6L201.4 159.4L197.2 157.7L196.3 155.2L192.9 152.1L191.2 150.1L187.9 147.6L184.5 145.0L181.9 145.5L179.4 144.2L176.0 143.0L172.6 142.5L169.2 142.5L165.0 140.8L161.6 141.7L159.9 143.0L156.2 143.9L156.6 140.8L154.9 144.2L152.3 145.0L148.1 147.6L144.7 149.3L140.5 150.6L137.1 151.5L134.1 151.8L137.1 150.1L140.5 149.3L144.7 146.7L146.4 144.7L143.9 145.0L138.8 144.7L138.8 142.8L134.6 141.7L132.9 140.0L132.0 138.8L134.1 137.8L134.6 137.1L140.5 136.6L140.5 134.9L137.1 134.9L131.2 134.5L128.6 133.0L132.0 132.0L135.7 131.5L139.1 131.8L136.3 130.7L132.9 128.6L131.7 127.4L137.1 126.1L142.2 124.7ZM289.4 111.2L297.8 109.5L302.9 107.0L311.3 105.3L328.3 104.4L345.2 103.1L362.1 102.7L375.6 104.4L382.4 106.1L392.5 106.1L382.4 108.7L380.7 112.0L379.0 115.4L379.9 118.0L375.6 120.5L375.6 123.0L371.4 124.7L374.8 125.2L368.9 128.1L362.1 129.0L357.0 130.7L350.3 132.7L345.2 134.0L343.5 136.6L341.0 140.0L339.3 142.5L336.7 142.5L331.6 140.8L328.3 138.3L325.7 135.7L323.2 132.3L322.3 129.0L326.6 126.4L321.5 124.7L319.8 122.2L316.4 118.8L313.9 116.3L306.3 115.1L297.8 115.4L292.7 113.7ZM372.2 133.2L375.6 131.7L382.4 132.0L385.8 131.5L388.3 133.2L390.0 134.0L387.5 135.2L382.4 136.6L378.2 136.4L374.8 135.9L375.6 134.7L372.2 134.2L375.6 133.7ZM301.2 139.1L303.7 136.9L304.6 134.0L308.8 131.0L306.3 129.0L299.5 126.9L297.0 124.7L291.9 123.0L286.0 121.7L280.9 120.5L275.8 119.3L269.1 119.7L261.4 119.2L260.6 122.2L262.3 123.9L269.1 125.6L274.1 125.9L279.2 125.6L280.9 127.3L286.0 128.1L289.4 129.8L288.5 131.8L286.8 134.0L280.9 134.9L281.7 135.2L287.7 135.2L291.0 136.6L294.4 137.9L297.8 138.3ZM214.9 125.6L218.3 127.3L226.8 128.1L235.2 127.8L241.1 126.4L238.6 123.9L235.2 121.0L230.1 120.5L223.4 121.4L214.1 120.5L211.5 123.0ZM201.4 122.2L203.9 123.6L208.2 123.0L211.5 121.4L214.1 118.8L208.2 118.0L202.2 118.8ZM260.6 114.6L277.5 114.9L280.9 112.9L286.0 111.2L294.4 108.7L302.9 106.1L308.0 104.4L294.4 103.6L277.5 103.6L260.6 105.3L257.2 107.0L265.7 108.7L264.0 111.2ZM250.4 116.3L257.2 117.6L269.1 118.0L277.5 117.5L277.5 115.9L264.0 114.9L250.4 114.6ZM251.3 121.4L255.5 122.2L260.6 119.2L257.2 118.8L252.1 119.2ZM240.3 122.2L247.1 123.0L248.8 120.8L245.4 119.2L240.3 120.5ZM214.9 117.1L223.4 118.0L233.5 117.1L233.5 115.4L226.8 114.6L216.6 115.1ZM250.4 112.0L260.6 111.5L265.7 109.5L260.6 107.0L252.1 107.8L250.4 110.4ZM265.7 135.7L269.1 137.1L274.1 136.2L276.7 135.7L274.1 134.0L269.1 132.7L265.7 134.0ZM312.5 163.5L318.1 164.8L322.3 165.2L323.7 163.6L322.3 162.0L319.8 160.3L318.1 159.1L319.0 156.9L315.6 158.6L313.0 162.0ZM269.1 207.1L272.4 205.1L276.7 204.9L282.6 207.5L286.0 209.0L287.3 209.8L281.7 210.3L280.9 209.0L277.5 207.3L274.1 206.1L270.7 207.1ZM287.0 212.5L289.4 210.3L294.4 210.5L297.0 212.7L293.6 213.2L291.0 213.4ZM280.4 212.9L283.8 213.2L282.9 213.9L280.6 213.5ZM299.2 212.7L301.7 212.9L301.5 213.5L299.2 213.5ZM195.8 158.2L201.4 159.1L203.9 162.0L200.5 161.4ZM187.9 152.6L189.9 153.0L190.9 155.7L188.7 154.3ZM151.5 146.7L155.2 146.1L154.9 147.2L152.3 147.9ZM281.9 229.5L284.3 228.3L285.1 226.1L286.8 225.4L289.4 224.7L291.9 223.0L292.2 224.2L291.6 225.7L294.4 224.5L294.4 223.4L297.0 225.7L301.2 226.1L303.7 226.7L308.0 225.9L309.7 227.4L310.0 229.5L313.0 230.5L315.6 233.3L319.8 234.0L323.2 234.7L325.4 236.4L326.6 237.4L328.3 241.0L328.3 244.0L330.8 244.8L331.6 245.2L335.0 246.0L337.9 248.2L341.8 248.7L345.2 248.9L347.7 250.3L350.3 252.1L353.1 252.8L354.0 256.2L353.3 259.2L351.1 261.8L349.4 263.8L347.7 266.0L346.9 269.4L346.9 273.6L345.2 277.5L343.5 281.2L341.8 282.9L339.3 282.9L336.7 284.3L334.2 284.9L331.6 286.8L330.6 288.8L330.5 291.9L328.3 294.4L325.7 297.3L324.5 298.6L322.3 301.5L320.0 303.2L317.3 302.9L314.1 302.0L315.9 304.1L316.4 305.7L315.2 308.6L311.3 309.8L307.6 309.6L307.5 312.5L304.9 313.7L302.9 313.4L302.9 315.9L305.1 315.9L302.4 317.6L302.0 320.1L298.7 322.2L301.2 324.4L301.2 325.7L298.3 328.2L296.1 329.4L297.1 332.5L295.3 332.8L292.7 335.0L290.2 334.5L289.0 334.0L286.8 332.0L285.6 328.6L285.1 325.2L285.1 322.7L287.7 321.0L288.5 317.6L287.7 315.1L288.0 311.7L288.8 309.1L288.5 306.9L289.7 304.1L291.4 300.7L291.9 296.4L292.2 293.1L292.7 289.7L293.6 286.3L294.1 281.2L293.9 275.1L291.9 273.3L288.5 271.6L285.1 269.4L283.8 267.3L282.3 264.5L280.1 260.9L278.4 257.5L276.3 254.5L275.3 252.0L277.0 249.8L277.7 248.2L276.0 247.7L276.7 245.5L277.3 243.8L277.9 242.5L279.5 241.5L280.1 239.6L281.7 239.3L282.1 237.2L281.7 234.5L281.9 232.5L281.1 231.8ZM296.8 333.2L297.5 334.5L299.5 335.9L302.6 336.5L300.4 337.2L297.0 337.7L294.4 337.4L291.9 335.9L293.6 335.0L294.1 333.5ZM309.7 331.1L314.7 331.0L314.7 332.0L310.5 332.3ZM308.3 225.9L309.7 225.7L309.7 226.9L308.3 226.9ZM456.5 123.7L460.2 123.9L465.3 125.1L468.7 126.4L473.8 126.9L480.5 129.0L482.2 130.7L480.5 132.0L477.1 132.3L472.1 131.5L468.7 131.2L471.2 133.2L472.1 135.2L475.4 135.7L477.1 134.5L480.5 134.7L480.5 132.7L483.9 131.7L487.3 132.0L487.3 129.8L486.4 127.9L490.7 128.5L490.7 131.0L494.1 129.6L502.5 128.3L505.0 128.6L511.0 127.6L515.2 126.4L516.0 128.1L522.0 126.9L526.2 128.1L528.7 126.4L526.2 123.9L528.7 120.8L531.3 120.2L535.5 120.8L536.0 123.9L534.7 127.3L537.2 129.0L536.3 131.5L538.0 129.8L538.9 127.3L537.2 123.9L539.7 122.2L541.4 122.2L544.8 121.7L549.0 119.7L549.0 122.2L553.3 123.0L551.6 124.7L555.0 125.6L555.0 123.0L558.3 119.3L560.0 117.1L566.8 115.9L573.6 115.3L582.0 114.6L588.8 112.6L595.6 114.2L602.3 114.6L604.9 116.3L600.6 118.8L598.1 118.8L602.3 119.2L605.7 119.5L612.5 119.7L620.9 119.7L626.9 119.7L631.1 121.4L632.8 123.9L637.8 123.0L644.6 123.2L648.8 123.0L650.5 121.4L659.8 121.7L666.6 123.0L670.0 124.1L678.4 123.9L683.5 126.1L686.9 126.3L693.7 126.4L697.1 125.9L701.3 127.3L702.1 125.6L710.6 125.9L717.4 127.4L725.8 129.8L730.9 130.7L734.6 132.2L730.0 134.9L725.8 134.4L724.1 133.2L719.0 133.2L717.4 134.0L714.0 134.9L713.1 138.3L707.2 139.5L703.8 140.8L701.3 142.5L693.7 142.5L690.3 142.8L688.6 145.0L689.1 146.2L688.3 148.4L686.9 151.0L683.5 154.0L681.0 155.2L678.4 157.7L676.8 155.2L676.2 151.0L676.8 147.6L679.3 145.9L683.5 141.7L687.8 139.6L690.3 138.3L683.5 139.5L678.4 140.0L674.2 142.8L670.0 144.2L664.9 143.0L659.0 143.5L653.9 143.9L649.7 146.2L646.3 148.8L642.1 151.5L645.5 152.6L648.0 152.3L651.9 154.0L650.9 156.9L650.2 159.4L650.5 162.0L647.2 165.3L643.8 167.9L642.1 169.6L637.8 171.6L634.5 171.8L633.6 172.4L632.3 174.6L629.4 176.3L628.5 177.2L629.9 178.9L631.6 181.4L631.8 183.4L631.1 184.6L628.5 185.3L626.5 185.6L626.9 183.4L627.2 181.4L625.2 180.1L624.3 178.9L624.3 177.2L623.1 176.3L620.1 177.2L617.9 178.4L619.2 175.5L617.5 174.8L614.2 177.2L612.0 178.0L613.3 179.7L614.2 180.9L617.0 180.1L620.1 180.9L617.5 182.3L615.0 184.3L615.9 186.0L617.5 189.0L618.9 190.7L618.9 192.4L618.4 194.6L618.4 196.6L615.9 199.2L615.0 201.2L612.5 202.7L610.8 204.2L608.2 205.6L605.7 206.3L602.3 207.1L599.4 208.0L598.9 209.7L598.4 207.6L596.1 207.5L593.5 208.8L591.8 211.0L593.0 213.9L595.2 216.4L596.9 218.1L597.8 221.2L597.6 224.0L594.7 226.2L593.4 227.9L590.5 229.3L590.1 227.4L588.4 226.2L586.8 224.0L585.4 222.9L583.5 221.3L582.0 221.5L581.7 224.5L580.8 227.1L582.0 229.6L582.9 231.8L584.6 232.5L586.2 233.8L587.8 236.4L587.9 239.3L589.1 241.6L587.9 241.8L585.4 240.1L584.2 238.9L583.2 236.9L582.5 234.7L582.4 233.0L580.8 231.3L579.1 230.0L579.5 227.1L579.8 224.0L579.0 221.2L578.1 217.8L577.8 216.1L576.6 215.2L574.4 217.3L572.7 216.9L572.4 213.5L571.4 211.0L569.3 208.8L568.5 206.8L567.6 205.6L565.9 206.4L563.4 207.1L560.9 207.5L559.7 209.0L558.3 210.3L556.6 211.2L555.0 212.9L552.1 215.6L549.9 217.1L548.5 218.6L548.5 221.7L547.8 224.5L547.8 226.6L546.5 228.3L545.1 228.9L544.0 230.3L542.3 228.8L541.4 226.2L539.7 222.9L538.9 219.5L537.2 216.1L536.3 212.7L536.0 211.0L535.8 208.5L535.5 206.8L532.1 208.8L529.6 206.4L531.3 205.4L529.2 204.6L527.0 203.6L525.9 201.7L522.0 201.2L517.7 201.4L514.4 201.2L511.0 200.7L509.3 198.7L508.1 198.2L505.6 199.0L502.5 198.3L500.0 196.8L498.3 194.6L497.4 192.9L495.4 192.7L494.1 193.6L494.4 195.3L495.7 197.5L497.4 199.2L497.9 200.9L499.1 202.0L499.6 200.0L500.1 203.1L502.5 203.1L505.0 202.9L507.6 200.4L508.3 199.5L508.4 202.0L510.1 203.7L512.3 204.2L514.0 205.9L512.3 208.8L510.6 211.9L508.4 213.5L505.9 215.2L502.5 216.1L499.1 218.1L495.7 220.0L492.4 221.5L489.0 222.3L486.4 222.5L485.6 219.5L485.1 216.4L483.1 213.2L480.5 209.7L478.8 206.8L477.1 203.4L475.4 200.9L472.9 197.0L471.7 194.4L470.9 197.0L469.5 195.8L468.0 193.4L469.5 196.6L471.2 200.0L472.9 203.4L475.3 206.8L476.0 209.3L476.0 211.9L478.0 213.5L479.3 217.3L481.4 219.0L483.9 221.5L486.1 223.2L485.9 224.5L488.1 226.2L492.4 225.2L495.7 224.9L499.5 223.9L498.8 226.6L497.4 230.5L494.9 234.7L492.4 238.1L489.8 240.6L486.4 244.0L483.9 246.2L482.2 247.9L480.5 249.9L479.7 252.5L478.8 255.0L479.7 258.4L481.0 261.4L481.5 265.1L481.7 268.5L480.5 271.6L478.0 273.3L475.4 274.5L472.9 277.0L471.7 278.2L472.7 281.2L472.9 284.6L469.5 286.8L468.3 288.0L468.3 290.5L467.5 292.7L465.3 294.8L463.6 297.3L460.7 299.5L458.5 301.0L456.3 301.5L453.5 301.7L450.1 302.0L446.7 302.9L444.1 301.9L443.6 299.0L443.3 297.3L441.6 293.9L440.4 292.2L438.6 289.7L437.4 283.8L437.4 281.2L435.7 278.7L434.0 275.3L432.8 272.8L433.2 270.2L434.2 266.8L435.7 264.8L436.2 262.3L435.2 259.2L433.7 254.3L433.2 252.5L431.8 250.8L429.8 248.7L428.4 246.5L428.1 244.8L428.9 242.8L429.3 240.6L429.4 238.6L428.9 237.4L427.6 236.4L424.7 236.6L423.0 236.7L421.3 234.2L420.5 233.3L418.6 233.2L415.4 233.5L412.9 234.4L409.5 235.9L407.8 235.4L405.2 235.2L402.7 235.9L400.2 236.6L397.6 235.5L395.1 233.3L393.4 232.3L391.7 231.3L390.5 229.6L389.7 227.9L388.3 226.2L387.5 225.4L384.9 223.2L384.4 221.2L383.2 219.1L384.9 216.9L385.3 213.5L385.4 211.0L384.1 208.5L384.9 205.9L385.8 203.9L387.5 202.2L388.3 200.0L390.4 197.1L391.2 196.6L394.2 195.3L395.9 194.1L396.4 192.4L396.3 190.7L397.3 188.9L399.3 187.3L401.3 186.5L402.9 183.4L403.9 183.3L405.2 184.5L407.8 184.3L409.5 184.6L411.2 183.6L413.7 182.8L416.2 181.9L417.9 181.7L421.3 181.7L424.7 181.4L428.1 181.4L429.8 180.9L431.5 181.4L430.6 183.1L431.5 184.8L430.1 186.0L431.5 187.3L434.0 188.5L435.2 188.3L438.2 189.2L439.4 190.9L442.5 191.7L445.0 192.7L446.7 191.6L446.7 189.4L449.2 188.3L451.8 189.0L455.1 190.2L458.5 191.0L461.9 191.7L464.4 190.9L467.0 190.9L467.8 191.4L469.5 191.4L470.9 191.0L471.7 189.5L472.1 188.2L472.9 186.7L473.4 184.8L473.8 183.1L474.1 181.9L472.1 182.1L470.4 182.8L467.8 182.9L465.3 181.7L464.4 182.6L461.9 182.3L460.2 181.7L459.0 181.4L458.5 179.7L457.7 178.9L458.5 177.7L457.2 177.2L457.3 176.2L459.4 175.7L461.9 175.1L462.1 174.5L464.4 174.5L466.1 174.1L468.7 172.9L472.1 172.9L473.8 173.8L475.4 174.3L478.0 174.8L480.5 174.6L483.1 173.8L483.1 172.1L480.5 170.4L478.0 169.1L476.3 167.9L477.1 166.2L478.8 164.5L477.1 164.2L474.6 165.2L472.1 165.8L472.9 167.4L474.6 167.5L472.9 167.9L470.4 168.9L469.4 168.6L467.8 167.2L469.7 166.2L467.0 165.7L465.3 165.2L463.6 166.5L463.1 167.5L461.4 169.6L461.1 170.6L459.9 171.8L460.2 173.1L461.9 174.1L460.2 174.6L458.5 175.1L457.3 175.5L456.8 175.0L453.5 175.0L452.6 176.0L451.4 175.7L451.3 177.2L452.6 178.4L453.5 179.7L451.8 180.6L451.8 182.3L450.4 182.3L449.2 181.4L448.7 179.7L447.5 178.0L446.3 176.3L445.7 173.8L445.0 172.9L443.3 171.8L440.8 170.4L438.6 169.1L437.4 167.5L436.2 166.9L433.7 167.4L433.8 169.1L435.7 170.2L436.5 171.8L439.1 172.9L439.9 173.1L442.5 174.8L444.1 176.2L441.6 175.5L440.9 177.0L441.8 178.0L439.9 179.9L439.4 179.4L439.9 178.0L439.1 176.3L437.4 175.3L435.7 174.3L433.5 173.3L431.5 172.3L430.3 170.7L429.4 169.6L427.7 168.9L425.5 169.9L423.0 171.1L421.0 170.6L418.8 170.7L417.9 172.1L418.3 173.3L416.2 174.1L414.0 175.1L412.3 177.2L413.2 178.5L411.7 180.1L409.8 181.4L408.6 181.9L405.4 181.9L403.7 182.9L402.2 182.1L401.0 181.1L398.0 181.4L398.0 178.9L396.8 178.4L397.8 176.0L398.1 173.8L397.6 171.3L399.3 170.1L402.7 170.2L406.1 170.6L409.8 170.6L410.7 168.7L410.8 166.2L409.1 164.2L405.2 163.0L404.9 162.0L407.8 161.4L410.1 161.6L410.1 160.1L412.9 160.4L415.4 159.1L415.7 157.9L418.8 157.0L420.0 155.7L421.0 154.3L424.4 153.5L427.2 153.2L427.6 151.3L426.7 149.9L426.7 147.6L430.6 146.4L430.3 148.4L431.1 148.8L429.4 150.4L429.4 151.3L431.5 152.1L433.7 152.1L435.7 152.0L437.0 152.8L440.8 151.8L444.1 151.5L446.3 152.0L448.4 150.4L448.4 147.9L450.1 146.6L452.6 147.6L454.0 147.1L454.1 145.4L452.6 144.7L452.6 143.9L456.0 143.2L460.2 143.3L463.9 142.7L461.1 141.5L456.8 141.8L451.8 142.7L449.2 141.5L448.9 139.5L448.9 137.4L450.9 136.2L454.3 134.4L455.7 133.4L453.5 132.7L450.1 133.0L448.9 134.9L445.5 136.9L443.0 138.3L441.9 140.8L444.7 142.5L443.3 143.7L441.3 145.2L440.8 147.6L439.7 149.1L437.2 149.4L436.9 150.3L434.8 150.3L434.3 148.9L432.8 146.7L431.8 144.4L430.8 143.2L428.9 144.4L426.4 145.7L423.8 145.7L422.2 144.5L421.3 142.0L421.3 139.8L423.8 137.9L427.2 136.6L430.6 135.4L433.2 133.2L434.8 131.2L437.4 129.3L439.9 127.8L443.3 126.3L447.5 125.6L451.8 124.4ZM61.0 124.1L69.4 123.9L74.5 126.1L77.9 126.3L84.7 126.4L88.0 125.9L92.3 127.3L93.1 125.6L101.6 125.9L108.3 127.4L116.8 129.8L121.9 130.7L125.6 132.2L121.0 134.9L116.8 134.4L115.1 133.2L110.0 133.2L108.3 134.0L105.0 134.9L104.1 138.3L98.2 139.5L94.8 140.8L92.3 142.5L84.7 142.5L81.3 142.8L79.6 145.0L80.1 146.2L79.2 148.4L67.7 147.6L70.3 145.9L74.5 141.7L78.7 139.6L81.3 138.3L74.5 139.5L69.4 140.0L65.2 142.8L61.0 144.2ZM403.2 159.2L406.9 158.9L410.3 158.2L415.0 157.4L415.4 154.8L413.2 154.3L412.9 153.2L410.8 151.6L410.0 149.9L409.1 149.3L407.8 148.8L409.5 146.6L406.1 146.4L407.4 144.9L404.4 144.9L403.0 146.7L403.4 148.4L403.5 150.3L404.7 151.1L406.9 151.1L407.8 152.6L407.4 153.7L405.2 153.8L405.2 154.7L405.9 155.5L404.1 156.4L407.4 157.0L405.7 157.6ZM395.9 156.7L399.3 156.5L402.2 155.7L402.7 153.8L403.5 151.8L402.4 150.6L399.3 150.6L398.5 151.8L395.9 152.3L396.3 153.8L396.8 155.2L395.4 156.0ZM500.0 123.0L502.5 124.4L510.1 124.4L507.6 121.4L511.0 118.8L516.0 116.6L524.5 114.6L529.6 114.1L526.2 113.7L517.7 114.9L509.3 116.6L505.9 119.7L501.7 121.7ZM431.5 109.5L436.5 112.9L441.6 114.4L450.1 112.9L448.4 110.7L458.5 108.7L446.7 107.8L438.2 108.7ZM575.3 109.8L582.0 111.7L590.5 111.2L588.8 109.5L578.6 107.8L571.9 108.2ZM645.5 115.8L651.4 118.8L655.6 120.0L666.6 117.1L659.8 116.3L651.4 115.4ZM714.8 123.6L719.9 123.0L721.6 123.9L717.4 124.2ZM434.0 179.7L439.2 179.2L438.4 181.9L434.8 180.6ZM426.7 174.3L429.3 174.6L429.1 177.7L427.2 178.0ZM427.4 171.4L428.9 171.3L428.8 173.8L427.6 173.6ZM452.8 183.8L457.3 184.3L457.2 184.8L452.8 184.5ZM467.5 184.6L471.4 183.6L470.2 185.0L468.0 185.5ZM431.5 149.8L434.2 149.3L434.0 151.0L431.8 150.8ZM443.6 146.1L445.3 146.2L444.1 147.6ZM634.3 186.5L637.0 186.0L641.2 185.5L642.6 187.3L644.6 185.5L647.7 185.3L649.3 184.8L651.0 183.6L651.4 181.4L652.2 179.2L653.1 177.2L652.2 174.0L650.2 174.3L649.7 176.7L648.8 179.2L647.2 180.9L645.0 180.6L644.3 181.7L642.9 183.6L639.5 183.9L637.0 184.1L634.5 185.8ZM649.7 173.8L650.2 172.6L651.7 172.3L655.1 172.9L659.0 170.7L658.5 169.1L653.1 167.0L652.4 168.7L651.9 170.9L650.2 170.9L649.3 172.4ZM632.8 187.3L634.5 186.7L635.8 187.7L635.3 190.7L634.0 191.6L633.1 189.9L632.3 188.2ZM637.0 186.5L640.4 186.0L640.7 186.8L639.5 187.7L637.8 188.5L637.0 187.7ZM653.1 152.1L654.8 154.3L655.3 157.7L656.5 161.1L654.8 164.5L655.6 166.2L653.1 166.2L653.1 162.8L653.1 159.4L652.7 156.0ZM617.5 201.4L619.2 201.7L618.4 204.2L617.2 206.8L616.2 205.1L616.7 202.9ZM596.7 211.4L598.1 210.2L600.5 210.2L599.8 212.2L598.1 213.2L596.7 212.5ZM548.2 227.4L550.2 229.6L551.4 231.7L550.7 233.3L549.0 234.0L547.8 232.5L547.8 230.1ZM616.7 212.7L619.6 212.9L619.7 216.1L618.4 217.8L619.2 220.0L622.6 220.7L622.6 222.7L620.9 221.2L618.7 220.7L616.9 220.3L616.2 218.6L615.5 216.6L616.5 215.2ZM619.2 232.2L620.1 230.5L621.8 229.3L625.2 227.4L626.5 229.6L626.9 233.0L625.2 234.2L622.6 233.0L621.8 231.3ZM623.1 222.9L625.2 223.2L625.5 225.4L624.3 226.7L623.5 225.1ZM619.2 224.0L621.3 225.4L621.8 227.9L620.1 227.9L619.6 226.2L619.1 225.1ZM611.1 229.8L613.0 227.9L615.0 224.9L614.5 226.6L612.5 229.1ZM616.5 221.3L618.2 221.7L618.1 223.2L617.4 223.0ZM597.2 241.5L598.1 240.6L600.6 241.1L601.5 239.4L604.0 238.4L605.7 236.4L608.2 235.2L610.3 232.3L612.0 233.3L614.2 235.2L612.5 236.7L612.0 238.9L613.8 242.3L612.1 242.6L611.6 245.2L609.9 246.5L609.6 249.1L609.1 250.8L606.5 250.8L605.7 249.8L604.0 249.4L602.0 249.9L599.3 248.9L598.9 246.5L597.2 244.8ZM574.1 234.5L577.8 235.2L579.5 237.2L582.0 239.3L583.7 240.6L587.1 243.2L588.4 245.7L589.6 247.4L592.2 249.1L591.8 253.8L589.6 253.6L587.1 251.6L585.4 249.9L583.7 247.9L582.5 245.4L580.3 243.2L579.5 241.0L576.9 238.4L574.9 236.2ZM590.8 255.5L593.0 254.2L596.4 255.0L599.8 255.5L600.6 255.0L603.5 255.7L606.5 257.2L606.4 258.5L603.2 258.0L598.9 257.5L595.6 257.0L593.0 256.3ZM607.4 257.9L609.9 258.0L614.2 257.9L614.2 258.9L610.8 259.2L607.7 258.7ZM615.5 258.2L617.5 258.2L620.9 257.9L620.6 258.9L615.9 259.1ZM614.2 260.1L617.2 260.7L615.9 261.4L614.2 260.6ZM621.8 261.4L624.3 259.2L627.7 258.2L626.9 259.2L623.5 261.3ZM615.5 242.6L617.2 241.8L620.1 242.3L623.5 241.5L624.7 241.5L623.5 243.2L620.9 243.2L617.5 243.2L616.2 244.0L616.7 245.7L618.4 245.5L621.4 245.5L621.4 245.9L619.2 247.0L618.4 247.4L619.7 249.6L620.9 250.8L620.9 253.0L619.2 252.1L618.4 250.8L617.5 248.7L616.4 248.9L616.5 250.8L616.5 253.3L615.0 253.3L615.0 249.9L613.8 248.6L614.7 246.2ZM628.5 240.6L630.2 241.5L630.7 243.5L629.4 245.4L629.0 243.2ZM629.4 249.1L634.1 249.6L632.8 250.3L629.7 249.9ZM634.5 245.4L637.0 244.7L639.5 245.4L639.9 247.7L641.2 249.6L643.8 247.7L646.3 246.7L650.5 248.1L651.4 248.4L654.8 249.8L657.3 250.6L659.5 252.5L661.5 254.2L662.9 255.3L661.5 255.5L663.2 257.7L665.4 259.4L668.0 261.3L665.8 261.4L662.9 260.9L660.7 259.2L658.1 257.2L655.6 257.9L653.9 259.6L651.4 259.4L648.8 257.5L646.3 258.0L646.3 255.8L647.7 255.5L646.0 252.8L642.9 251.8L639.5 250.6L637.5 250.8L636.7 248.9L638.7 248.1L636.2 247.4ZM663.7 253.3L666.6 252.5L670.0 251.1L670.5 252.5L667.5 254.5L664.9 254.5ZM668.0 248.4L670.8 250.4L671.7 251.8L670.5 250.8L668.0 248.9ZM677.6 255.3L681.8 257.5L684.4 260.1L683.2 260.1L679.3 257.5ZM690.3 278.0L693.7 280.4L695.4 281.7L694.2 281.7L690.8 279.2ZM712.8 273.6L715.0 273.6L715.0 274.8L712.8 274.6ZM604.9 281.2L606.0 280.9L609.1 279.2L612.5 278.3L615.0 277.8L618.4 276.1L619.7 273.6L621.8 272.8L622.6 271.6L624.3 269.4L626.9 267.7L629.4 269.0L631.9 269.0L632.8 266.0L634.5 264.6L637.0 264.3L637.0 263.1L641.2 264.6L644.3 264.6L642.9 266.8L642.1 269.4L644.6 271.1L648.0 273.3L650.5 273.6L652.2 270.2L652.6 266.8L653.1 263.5L653.9 262.1L655.6 265.1L656.1 268.2L658.7 269.4L659.3 272.8L660.3 275.8L663.2 277.8L665.4 280.4L667.8 282.4L668.3 284.3L671.7 286.8L672.2 290.5L672.5 292.6L671.7 296.4L670.3 299.3L668.8 301.2L667.5 304.1L666.6 306.9L663.2 308.1L660.7 309.6L660.3 310.1L657.8 308.6L655.6 309.6L652.2 308.8L649.7 307.4L648.8 304.9L646.8 304.2L646.8 302.4L646.0 299.8L645.1 301.9L642.9 303.2L642.1 302.7L639.9 299.8L636.2 298.1L632.8 297.5L629.4 298.1L626.0 298.6L622.6 299.8L621.8 301.3L618.4 301.2L615.9 301.3L612.5 303.2L609.1 302.9L607.4 302.0L607.9 299.8L608.6 298.1L607.4 294.8L606.0 291.4L604.9 288.0L605.4 284.6ZM657.6 312.9L660.7 313.5L663.6 313.0L663.7 315.1L662.4 317.1L660.7 317.8L659.0 316.4ZM705.0 302.2L707.7 304.1L709.7 306.3L710.6 307.6L714.0 307.4L714.8 307.8L713.6 310.3L712.3 310.7L711.9 312.2L709.4 314.4L708.4 313.9L709.2 312.0L706.9 310.5L708.4 309.1L708.4 306.6L705.5 303.2ZM705.0 312.5L707.5 313.7L707.2 315.1L705.2 317.6L705.5 318.1L702.6 318.9L701.8 321.5L699.6 322.8L697.6 322.8L694.5 321.8L695.4 320.1L697.9 318.4L701.3 316.7L703.0 314.7L704.2 312.9ZM496.3 264.3L497.9 270.2L496.6 273.6L495.4 277.8L493.7 282.9L492.4 286.3L489.3 287.3L486.8 285.1L486.1 281.2L487.8 277.8L487.3 274.5L488.1 271.4L491.2 270.6L493.7 268.5L495.4 266.0ZM148.9 209.8L150.6 210.5L149.5 211.9L148.9 210.8ZM108.3 376.3L125.3 376.8L142.2 376.0L145.6 374.3L159.1 373.4L176.0 371.4L192.9 369.7L209.8 368.8L226.8 370.0L238.6 367.5L243.7 365.8L252.1 367.5L260.6 367.2L269.1 367.8L277.5 368.0L286.0 365.8L294.4 360.7L297.8 357.9L302.9 354.8L308.0 353.1L313.0 351.4L316.4 351.1L314.7 353.1L309.7 354.8L308.0 357.3L309.7 360.7L309.7 364.1L309.7 367.5L311.3 370.0L319.8 373.4L328.3 375.1L336.7 375.6L345.2 376.0L353.6 375.1L362.1 372.6L370.6 370.9L379.0 368.3L387.5 366.6L395.9 364.1L404.4 363.8L412.9 362.1L421.3 362.8L429.8 362.4L438.2 362.1L446.7 362.4L455.1 362.9L463.6 361.2L472.1 360.7L477.1 361.9L480.5 360.7L489.0 358.5L497.4 357.3L505.9 356.0L514.4 358.0L522.8 358.7L531.3 359.9L534.7 361.6L539.7 361.6L544.8 359.4L548.2 358.5L556.6 357.0L565.1 356.8L573.6 356.0L582.0 355.3L590.5 356.2L598.9 355.7L607.4 356.5L615.9 357.0L624.3 356.2L632.8 355.7L641.2 355.7L649.7 356.8L658.1 357.3L666.6 359.9L675.1 360.7L683.5 362.9L692.0 363.8L700.8 364.8L700.4 366.6L695.4 369.2L690.3 371.7L688.6 374.3L693.7 375.6L700.4 375.6L708.9 376.0L717.4 376.3L727.5 376.5L727.5 399.6L98.2 399.6L98.2 376.3Z" fill="rgba(200,200,200,0.2)" stroke="#000" stroke-width="0.7" stroke-linejoin="round"/>
<path d="M492.4 167.0L495.7 165.3L500.0 164.8L502.5 165.3L502.5 167.9L499.1 168.7L497.9 169.1L499.1 170.9L501.7 171.6L502.2 173.8L503.9 175.0L502.2 176.3L504.0 178.0L503.9 180.9L500.8 181.7L497.9 180.9L495.7 179.2L496.3 175.8L494.9 173.3L493.2 171.3L492.0 168.7ZM511.8 166.5L514.4 165.2L516.9 165.7L516.0 168.7L513.5 170.2L511.5 169.6Z" fill="rgba(255,255,255,0.27)" stroke="none"/>
<path d="M588.4 156.7L591.3 156.9L593.9 155.2L597.2 152.6L598.9 150.1L598.1 149.6L596.4 151.8L593.9 153.8L591.3 155.2ZM537.2 167.0L539.7 164.8L543.1 165.2L546.5 165.3L545.6 166.2L541.4 166.2L538.9 167.9ZM257.2 165.0L260.6 163.1L263.1 162.0L267.4 162.0L269.4 163.6L269.7 165.3L266.5 165.3L264.0 164.7L260.6 165.2ZM264.3 172.9L266.9 172.9L267.0 169.6L269.1 166.5L267.4 166.2L264.8 167.9L264.0 170.4ZM269.9 166.2L275.0 166.2L277.5 168.7L274.6 171.3L273.3 171.3L271.6 169.6L271.9 167.5ZM271.8 173.5L275.8 173.8L279.2 171.8L277.5 171.6L273.3 172.6ZM277.9 170.7L282.6 170.7L283.9 169.6L280.9 169.6ZM245.4 158.6L248.8 158.9L249.6 156.0L247.1 152.6L245.4 154.3ZM214.9 140.8L220.0 140.8L226.8 137.8L223.4 137.8L216.6 139.1ZM201.4 133.7L208.2 134.0L213.2 132.3L209.8 130.7L204.8 131.8ZM225.1 144.7L228.5 143.7L230.1 144.2L225.9 145.0ZM466.5 245.7L467.0 243.5L470.4 243.7L470.4 246.5L468.7 248.6L467.0 248.2ZM462.4 249.8L463.3 252.5L464.4 255.8L465.3 258.7L464.1 257.5L462.4 253.3ZM470.4 260.1L471.2 262.6L472.1 266.0L472.4 268.2L471.4 267.7L470.9 264.3L470.4 262.6ZM464.4 140.8L467.8 140.0L467.8 142.0L465.3 142.5ZM471.2 138.3L473.8 139.1L472.9 140.8L471.2 140.0Z" fill="rgba(255,255,255,0.08)" stroke="rgba(200,200,210,0.45)" stroke-width="0.4"/>
<path d="M536.2 124.9L535.6 129.2L523.8 131.8L522.5 136.8L530 141.1L541.2 141.5L555 148M530 141.1L528.1 145.2M548.5 121L552.5 124L557.5 127.5L558.8 131.2L562.5 134L567.5 136.9M562.5 134L560.6 137.5L562.5 140M581.2 123.2L586 122L592.5 119.9L600 118.6" fill="none" stroke="#000" stroke-width="0.6" stroke-linejoin="round"/>
<path d="M204.4 161.1L251.8 161.1L252.5 160.6L257.2 162.3L261.4 162.8L263.5 162.3L269.4 164.8L269.9 165.3L271.6 166.2L273.3 167.4L273.5 171.3L272.4 172.9L273.3 173.3L279.2 171.6L279.2 170.4L283.4 169.6L286.0 167.9L291.9 167.9L293.6 166.5L295.8 163.8L298.2 164.3L298.2 166.7L299.5 167.9M174.3 126.3L174.3 142.0L177.7 142.5L180.2 144.4L183.6 143.0L187.0 145.0L189.5 147.6L192.9 149.3L192.6 151.0M214.8 189.0L218.6 188.9L225.1 191.0L229.8 191.0L229.8 190.2L232.7 190.2L236.1 193.9L238.6 194.9L239.6 193.6L242.0 193.9L244.5 197.5L245.4 199.3L248.4 200.2M256.9 219.5L257.2 218.3L258.1 216.9L259.8 216.9L258.9 214.9L262.0 213.9L262.0 217.1L262.5 217.1M263.5 212.7L262.0 213.9M263.5 217.4L261.8 219.6L260.4 220.7M261.8 219.6L264.0 220.5L264.3 221.3M265.2 222.0L267.4 220.7L269.1 219.3L272.1 218.6M267.9 225.2L271.3 225.6M272.6 230.3L273.1 227.8M292.2 224.0L290.2 226.2L290.2 229.6L291.0 231.8L294.4 232.2L298.7 233.5L298.2 237.2L299.5 239.8L299.5 242.0M299.5 242.0L294.8 242.1L295.3 245.7L294.4 251.1M294.4 251.1L291.0 248.2L288.5 246.0L285.5 244.2M285.5 244.2L282.6 243.3L279.5 241.6M285.5 244.2L285.1 246.5L281.7 249.1L280.1 251.6L277.0 249.8M299.5 242.0L302.0 242.6L304.6 241.5L304.6 237.2L308.8 236.7L310.2 235.2M310.2 235.2L309.1 233.8L311.3 230.0M310.2 235.2L311.3 236.4L311.9 239.8L313.9 241.8L316.4 240.8L317.3 240.6M316.1 233.8L315.6 237.2L317.3 240.6L320.7 240.1L324.0 240.1L325.4 237.2M321.5 234.2L320.7 240.1M294.4 251.1L289.4 252.5L287.7 256.7L290.2 260.1L293.6 260.1L293.6 262.6L295.3 262.6M295.3 262.6L297.8 262.6L302.4 260.9L302.9 264.3L308.0 266.8L310.8 267.7L311.3 271.6L314.2 271.6L314.7 273.6L315.4 274.5L314.7 277.8M295.3 262.6L296.1 266.0L296.1 270.2L295.3 273.6L293.9 275.1M295.3 273.6L297.0 277.0L297.8 280.4L299.2 282.6M299.2 282.6L302.9 281.2L306.8 281.6M306.8 281.6L308.0 278.7L313.0 276.6L314.7 277.8M314.7 277.8L314.7 281.2L318.1 281.6L319.0 284.6L321.0 284.6L320.5 287.3M306.8 281.6L309.7 284.3L314.7 286.6L313.9 290.0L318.1 290.2L320.5 287.3M320.5 287.3L322.0 289.7L318.5 291.9L315.4 295.1M315.4 295.1L319.0 296.4L322.3 299.5L322.5 301.0M315.4 295.1L314.4 299.0L314.1 301.5M299.2 282.6L297.0 285.4L297.3 289.7L294.8 294.8L293.9 299.8L294.4 303.2L292.7 307.4L291.9 311.7L291.4 316.7L291.9 321.8L290.2 326.9L290.5 330.3L297.1 332.5M296.8 333.2L296.8 336.9M409.1 184.6L410.3 189.0L406.9 191.6L403.5 193.6L398.1 195.4L398.1 197.8M398.1 197.1L390.9 197.1M398.1 197.8L398.1 200.0L392.5 200.0L392.5 204.2L390.9 205.1L390.9 208.0L384.1 208.0M398.1 197.8L404.7 201.7L414.5 208.5L417.9 211.5L420.0 211.5M404.7 201.7L401.9 201.7L403.5 216.1L403.9 217.8L394.7 217.9L392.2 219.0M384.9 216.9L389.2 215.9L392.2 219.0L393.6 223.2M420.0 211.5L423.0 210.5L433.2 204.2M433.2 204.2L428.9 199.2L429.4 196.1L428.9 192.9M428.9 192.9L428.1 189.9L425.5 186.8L426.9 184.8L427.4 181.6M428.9 192.9L430.3 190.4L432.3 188.0M455.1 190.5L455.1 206.8L455.1 210.2L453.5 210.2L453.5 211.0L439.9 204.2L438.2 205.1L436.9 205.8L433.2 204.2M455.1 206.8L475.3 206.8M438.2 205.1L439.1 208.5L439.9 210.2L439.1 215.6L435.7 219.5L435.7 221.0M435.7 221.0L429.8 221.7L424.7 222.0L419.6 221.2L418.9 224.2M420.0 211.5L420.0 215.6L418.8 217.8L414.5 218.6L413.2 218.6M413.2 218.6L416.6 222.9L418.9 224.2M413.2 218.6L409.5 220.0L406.1 221.5L403.5 226.2M403.5 226.2L399.3 226.7L398.5 224.5L393.6 223.2M408.1 235.4L408.1 227.9L408.1 225.4M414.9 233.7L413.7 229.6L412.9 225.4M403.5 226.2L408.1 227.4M408.1 225.4L412.9 225.4L414.5 225.4L416.6 222.9M415.6 233.5L415.6 228.8L414.4 225.4M417.4 233.2L417.6 228.8L418.9 224.2M400.2 236.6L398.5 233.0L398.8 231.1L399.3 226.7M398.8 231.1L396.8 229.8L395.4 229.6L393.4 232.3M395.4 229.6L394.7 227.9L391.7 227.4L390.4 228.8M387.5 225.4L389.7 224.2L389.7 222.7M384.6 223.2L389.7 222.7L393.6 223.2M384.4 221.8L389.2 221.7L389.5 221.2L384.9 221.0M427.4 236.2L428.9 233.0L432.3 232.5L434.0 229.6L435.7 227.1L437.4 224.5L436.5 222.0L435.7 221.0M436.5 222.0L438.2 225.7L439.1 227.1L436.5 227.1L438.6 231.3M438.6 231.3L444.1 230.5L448.4 227.9L451.4 225.4M451.4 225.4L450.6 222.0L453.5 217.4L453.5 211.0M438.6 231.3L437.4 234.7L438.2 237.2L440.3 240.3M429.4 240.1L432.0 240.3L435.3 240.3L440.3 240.3L440.8 238.4L444.3 238.1M429.4 242.3L432.0 242.3L432.0 240.3M435.3 240.3L437.2 241.6L436.5 244.8L437.4 247.4L434.0 247.9L434.8 249.1L432.3 249.9L431.8 250.8M433.5 253.8L434.8 251.8L437.2 252.3L438.7 251.3L439.9 248.2L442.8 244.8L443.3 241.5L444.3 238.1L444.3 236.7M444.3 236.7L447.5 236.4L450.9 237.1L454.3 235.5L459.2 235.4M451.4 225.4L452.9 229.3L455.1 230.8L459.2 235.4M452.9 229.3L455.1 226.6L460.2 228.1L463.6 226.7L467.8 223.7L469.0 226.2L470.4 227.9M470.4 227.9L468.7 230.5L472.1 234.9L473.6 236.2M459.2 235.4L463.6 237.7L465.3 237.7L469.5 237.6L473.6 236.2M470.4 227.9L471.2 225.4L473.8 222.5L474.6 219.8L475.4 215.2L478.1 213.5M474.6 219.8L477.1 219.1L480.5 219.5L484.6 222.9M484.6 222.9L483.6 225.4L485.6 225.4M485.6 225.4L485.3 227.1L487.3 228.8L492.4 230.5L494.1 230.5L489.0 235.5L483.9 236.9L482.2 237.2M482.2 237.2L482.2 244.0L482.2 246.9M482.2 237.2L479.7 238.1L477.1 237.9L473.8 236.4L473.6 236.2M470.4 236.9L472.1 241.1L470.4 243.7L470.4 245.7M470.4 245.7L476.6 249.1L476.6 249.9L479.2 252.0M465.3 237.7L465.0 240.1L463.1 242.6L462.9 246.4M462.9 246.4L464.4 245.7L465.0 248.1L464.4 249.6L464.3 251.4L462.6 251.4L462.2 248.6L462.9 246.4M462.2 248.6L465.0 248.1M464.4 245.7L470.4 245.7M462.6 251.4L462.9 255.0L465.0 258.0M465.0 258.0L468.5 259.9L470.4 260.1M471.4 263.5L475.4 263.6L481.2 261.8M433.5 254.0L434.8 254.0L440.9 254.0L441.6 256.7L445.8 255.8L447.5 256.3L449.7 256.3L450.1 260.1L450.4 262.9L453.5 262.6L453.5 266.0M453.5 262.6L455.7 263.8L458.5 264.3L460.2 265.1L461.9 266.7L463.3 264.6L461.1 264.3L460.9 259.6L465.0 258.0M453.5 266.0L450.1 266.0L450.1 271.4L452.4 273.8M432.8 273.3L436.5 273.4L444.1 273.4L452.4 273.8L455.7 274.1M448.4 275.0L448.4 281.2L446.7 281.2L446.7 286.0M446.7 286.0L446.7 292.0L441.6 291.5L440.8 292.4M446.7 286.0L448.0 289.3L451.3 287.0L456.0 287.5L458.5 283.9L462.6 281.6M462.6 281.6L459.7 278.7L456.8 276.1L455.7 274.1M455.7 274.1L458.5 274.3L461.7 271.1L464.3 270.4M464.3 270.4L468.3 272.3L468.7 275.3L468.2 278.7L465.8 281.9M462.6 281.6L465.8 281.9L467.0 285.4L467.0 289.3L468.5 289.5M458.5 294.1L461.2 292.4L462.6 293.7L460.9 295.8L459.2 295.3L458.5 294.1M465.3 287.6L467.0 288.0L467.0 290.0L465.3 289.7L465.3 287.6M468.5 259.9L469.2 262.6L468.7 266.0L468.2 267.7M464.3 270.4L463.9 269.0L468.7 267.7L471.2 268.5L473.6 271.1L472.6 272.8L471.7 271.9L471.0 268.4M398.0 173.1L399.0 172.9L401.9 173.5L401.2 175.8L400.5 177.2L401.0 179.4L400.3 181.1M409.8 170.6L414.0 171.8L418.3 172.3M425.5 169.9L424.7 167.9L424.7 166.4L423.3 165.7L425.7 163.5L426.7 161.1L423.7 160.3L422.7 160.3L420.0 159.4L417.1 157.6M418.6 157.0L421.3 157.0L423.0 157.7L423.0 159.1L423.7 160.3M423.0 157.7L424.4 156.0L425.0 153.8M427.4 151.1L429.4 151.3M437.0 152.8L437.5 155.2L438.2 157.7M438.2 157.7L433.7 158.9L436.2 161.6M436.2 161.6L434.8 163.6L430.6 163.6L429.1 163.6L427.2 163.3L425.7 163.5M429.1 163.6L430.6 164.7L430.4 165.3L428.1 166.2L427.1 165.5L424.7 166.4M430.4 165.0L433.5 164.5L436.0 165.3L436.0 166.9M436.2 161.6L438.2 161.1L441.6 161.8L441.8 162.8L440.8 164.5L439.9 164.8L436.0 165.3M438.2 157.7L440.8 158.9L444.7 160.3L446.7 160.8L450.9 160.9M441.6 161.8L444.7 160.3M450.9 160.9L453.5 158.1L452.8 156.0L453.3 154.3L452.6 152.6L451.4 152.0M446.3 152.0L451.4 152.0L451.3 151.0L448.7 150.4M448.4 149.1L453.5 148.8L457.8 149.8M454.0 146.1L456.8 146.2L459.2 146.7M460.2 143.3L459.5 145.9L459.2 146.7L460.6 148.9M460.6 148.9L457.8 149.8L456.3 152.1L452.6 152.6M460.6 148.9L465.0 149.9L465.3 151.5L468.2 153.5L466.1 155.7L464.4 157.2L460.2 156.7L455.1 156.2L452.8 156.7M466.6 155.9L470.4 155.5L472.9 158.7L477.1 159.4L480.5 160.1L480.0 163.1L477.5 164.3M450.9 160.9L450.4 162.1L451.8 162.8L455.0 163.3L457.8 162.3L460.6 167.0L462.9 167.2M457.8 162.3L461.9 162.6L463.6 165.5L460.6 167.0M450.4 162.1L448.4 165.8L447.2 166.0L449.1 168.2L451.3 169.2M451.3 169.2L455.1 170.1L458.5 169.4L461.2 170.1M440.1 164.7L441.9 162.8L444.7 163.1L447.5 162.0L450.4 162.1M440.4 165.3L442.6 166.4L445.0 166.4L447.2 166.0M435.9 167.0L438.7 167.0L440.8 165.3M439.6 167.5L441.6 167.5L445.0 168.0L445.7 169.2L445.5 170.4L444.1 172.1M439.6 167.5L440.4 169.6L442.6 171.3L444.1 172.1M445.0 168.0L445.0 166.4M445.7 173.1L447.5 171.6L450.7 172.4M446.7 176.8L448.4 174.8L447.5 173.8L447.5 171.6M448.4 174.8L451.8 174.1L454.3 173.8L457.3 173.5L456.8 175.0M457.3 173.5L460.2 172.9M451.3 169.2L450.7 172.4L451.8 174.1M431.8 144.4L433.2 142.5L434.0 140.0L433.2 136.6L436.5 134.9L438.2 132.0L440.8 129.3L443.3 128.1L447.5 127.1M447.5 127.1L451.8 127.8L456.5 126.3L460.2 125.6L461.9 126.9L465.0 125.9M447.5 127.1L452.6 129.1L453.5 132.7M461.9 126.9L461.1 128.5L463.6 129.6L461.9 131.0L463.6 133.0L463.1 135.2L466.1 137.6L462.8 140.3L459.9 141.7M400.5 151.0L399.3 151.8L402.2 152.5M473.8 182.8L474.9 181.9L477.1 181.7L480.5 181.7L484.4 181.1L488.6 181.1L488.1 179.2L487.3 177.3L488.6 176.8M483.1 173.8L486.4 174.5L486.8 176.0L488.6 176.8M480.5 170.6L485.6 171.8L491.5 173.1L493.7 174.1L495.1 173.3M486.4 174.5L489.0 174.1L491.5 173.1M489.0 174.1L490.7 175.8L491.5 178.0L491.0 178.2M488.6 176.8L491.0 178.2L494.1 176.8L495.6 179.0M473.6 185.5L474.6 186.1L473.4 187.7L472.2 188.0M473.1 188.7L472.9 190.7L472.1 194.1M470.9 191.0L471.9 194.1M473.4 188.7L475.1 189.4L478.5 187.5L482.2 185.8L482.7 183.8L484.4 181.1M478.5 187.5L479.2 189.5L475.4 190.7L477.1 192.4L473.8 194.6L472.1 194.3M479.2 189.5L481.2 190.0L483.9 191.4L488.5 194.6L491.5 194.8L493.2 194.9L494.7 195.8M491.5 194.8L492.4 193.2L494.1 193.2M488.6 181.1L489.7 183.1L490.7 184.5L489.8 186.5L490.7 188.2L493.7 190.2L493.5 191.6L495.1 193.2M485.3 216.3L485.9 214.6L489.7 214.7L491.3 214.9L493.2 215.2L494.4 213.2L495.9 212.5L500.8 211.9L505.9 210.2L507.1 206.8L506.2 205.6L501.8 205.3L500.1 203.1M500.8 211.9L502.7 215.9M506.2 205.6L507.2 203.4L508.3 201.9M498.8 202.2L499.5 202.4M504.0 180.9L505.9 179.7L509.3 179.4L513.2 180.6L516.4 182.1L516.4 183.8L515.2 186.5L515.7 190.7L517.4 191.6L515.9 193.6L517.4 195.6L519.1 196.3L519.1 198.0L519.9 199.0L517.1 201.4M515.9 193.6L518.6 194.3L521.1 194.3L525.0 193.4L525.7 191.2L530.1 190.0L530.4 188.2L531.3 186.5L533.1 185.8L534.0 183.1L539.6 181.4M516.4 183.8L519.4 183.3L522.0 182.6L525.3 180.7L527.9 181.4L530.4 180.6L533.0 179.0L534.0 181.9L539.6 181.1M495.7 165.7L492.4 162.8L491.5 162.0L492.4 159.8L494.9 159.4L499.1 156.9L504.2 157.7L511.8 157.7L516.9 157.7L514.4 154.3L516.4 152.8L522.8 152.0L529.6 150.4L533.0 152.3L537.2 152.6L542.3 152.3L544.5 153.8L548.2 158.1L554.1 157.7L557.5 160.1L560.5 160.8M560.5 160.8L558.3 162.0L557.8 164.2L553.3 164.2L552.1 167.0L548.2 167.9L548.5 172.6M548.5 172.6L544.8 171.4L539.7 171.4L537.2 171.3L533.0 172.4L531.8 172.9M531.8 172.9L527.9 174.6L525.3 174.3L524.5 171.3L516.0 168.9L511.8 167.0L507.6 167.9L507.6 174.1M507.6 174.1L509.3 174.1L512.0 171.8L514.4 173.3L517.7 176.3L522.0 178.2L525.3 180.7M507.6 174.1L505.0 172.9L501.7 173.3M548.5 172.6L542.8 174.8L537.7 177.2L539.7 180.6L539.6 181.1M531.8 172.9L533.0 174.3L536.3 175.0L534.1 176.0L532.3 177.0L537.7 177.2M532.3 177.0L528.7 177.0L527.4 179.7L527.9 181.4M560.5 160.8L565.1 158.9L569.3 158.1L572.7 159.4L578.6 158.6L579.5 156.0L585.4 156.9L585.9 158.4L590.5 158.7L593.9 159.8L599.8 160.8L604.0 159.8L610.3 159.8M561.4 160.8L561.7 162.0L565.9 163.6L566.8 167.5L574.4 169.2L576.1 171.8L583.7 171.9L590.5 173.6L599.8 171.8L602.3 169.9L602.0 167.9L608.2 167.0L610.8 165.5L615.5 164.8L612.5 162.8L609.1 163.0L608.6 162.5L610.3 159.8M610.3 159.8L614.5 158.9L615.9 154.8L620.1 153.5L625.7 154.3L628.5 159.4L634.0 161.3L634.0 163.1L637.3 163.1L640.9 162.1L638.2 167.5L634.5 168.0L634.8 170.6L633.8 172.1M633.8 172.1L631.9 172.3L629.4 172.9L627.4 173.5L623.1 176.3M627.2 180.1L630.1 178.7M539.6 181.4L541.4 183.1L544.5 183.9M544.5 183.9L542.8 185.3L538.0 186.5L538.9 188.7L540.2 189.4L538.9 191.6L536.3 193.8L534.5 196.6L531.3 197.1L531.3 199.2L533.0 202.6L529.2 202.9L528.2 204.1M544.5 183.9L547.3 185.6L546.5 189.0L546.5 191.6L549.9 192.9M549.9 192.9L548.5 195.3L553.3 197.5L556.6 199.0L561.9 199.3L561.9 196.8M549.9 192.9L553.3 194.6L558.3 196.6L561.9 196.8M561.9 196.8L563.2 197.8L563.4 198.7L568.5 198.7L568.5 197.0L567.6 196.6L565.1 196.3L563.2 197.8M568.5 197.0L571.9 194.6L575.3 194.3L577.5 196.3M577.5 196.3L576.9 198.0L573.9 199.0L572.9 201.4L571.9 203.6L570.7 203.4L570.5 206.4L569.5 208.0M561.9 199.3L563.4 199.5L564.8 201.2L569.0 201.5L568.8 202.9L567.1 203.2L567.3 204.9L569.0 203.9L569.5 208.0M561.9 199.3L562.2 201.7L562.9 203.1L563.4 206.8M577.5 196.3L579.8 197.3L579.8 200.4L578.0 202.7L580.0 203.4L580.7 206.4L582.4 207.6L584.1 208.1M582.2 209.7L578.6 210.7L577.6 212.7L579.7 216.6L579.0 218.6L580.7 222.0L581.3 224.0L580.0 226.7M584.1 208.1L582.2 209.7M584.1 208.1L585.7 206.1L591.0 204.6L593.2 205.3L593.4 206.8L595.6 207.6M585.7 206.1L588.4 208.8L589.8 210.8L590.8 212.4L593.0 215.2L594.7 218.6L594.9 219.1M582.2 209.7L583.7 211.0L584.1 214.4L585.6 213.2L587.9 212.9L590.0 214.6L590.1 216.4L591.5 217.8L591.5 219.6M591.5 219.6L587.1 220.0L586.1 221.2L586.9 224.2M591.5 219.6L594.9 219.1L594.7 222.9L592.2 224.2L591.8 225.6L589.6 226.4M582.2 233.2L583.7 234.2L585.6 233.5M598.3 240.6L599.8 242.5L602.7 241.5L606.5 241.6L608.7 236.7L611.8 236.9M651.4 248.4L651.4 259.4M622.6 259.9L624.5 260.1" fill="none" stroke="#000" stroke-width="0.6" stroke-linejoin="round"/>
</g>
<rect x="100.5" y="97.5" width="620" height="298.8" fill="none" stroke="#000" stroke-width="1.3"/>
<rect x="100.5" y="468.5" width="620" height="30.5" fill="url(#jet)" stroke="#000" stroke-width="1"/>
<g stroke="#000" stroke-width="0.7"><line x1="174.6" y1="499" x2="174.6" y2="494.5"/><line x1="249.3" y1="499" x2="249.3" y2="494.5"/><line x1="324.0" y1="499" x2="324.0" y2="494.5"/><line x1="398.3" y1="499" x2="398.3" y2="494.5"/><line x1="472.9" y1="499" x2="472.9" y2="494.5"/><line x1="548.0" y1="499" x2="548.0" y2="494.5"/><line x1="623.2" y1="499" x2="623.2" y2="494.5"/><line x1="697.9" y1="499" x2="697.9" y2="494.5"/></g>
<g class="t" font-size="17.7"><text x="174.1" y="519.2" text-anchor="middle" textLength="25.1" lengthAdjust="spacingAndGlyphs">0.5</text><text x="248.8" y="519.2" text-anchor="middle" textLength="25.1" lengthAdjust="spacingAndGlyphs">1.0</text><text x="323.5" y="519.2" text-anchor="middle" textLength="25.1" lengthAdjust="spacingAndGlyphs">1.5</text><text x="397.8" y="519.2" text-anchor="middle" textLength="25.1" lengthAdjust="spacingAndGlyphs">2.0</text><text x="472.4" y="519.2" text-anchor="middle" textLength="25.1" lengthAdjust="spacingAndGlyphs">2.5</text><text x="547.5" y="519.2" text-anchor="middle" textLength="25.1" lengthAdjust="spacingAndGlyphs">3.0</text><text x="622.7" y="519.2" text-anchor="middle" textLength="25.1" lengthAdjust="spacingAndGlyphs">3.5</text><text x="697.4" y="519.2" text-anchor="middle" textLength="25.1" lengthAdjust="spacingAndGlyphs">4.0</text>
<text x="409" y="543.7" text-anchor="middle" textLength="43.1" lengthAdjust="spacingAndGlyphs">VTEC</text>
<text x="719.3" y="540.5" text-anchor="end" textLength="41.4" lengthAdjust="spacingAndGlyphs">1e17</text>
</g>
</svg>
</body></html>
